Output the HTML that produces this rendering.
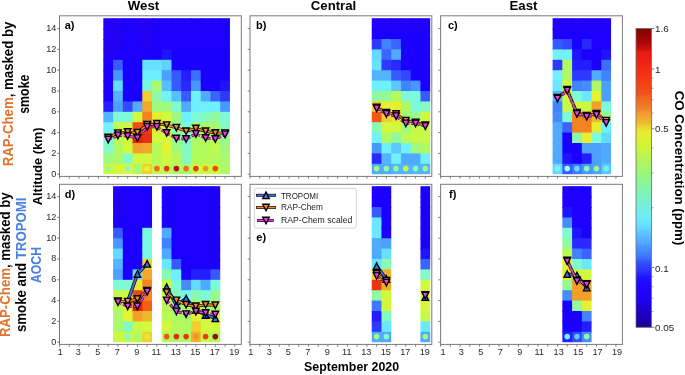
<!DOCTYPE html><html><head><meta charset="utf-8"><style>html,body{margin:0;padding:0;background:#fff;}svg{display:block;will-change:transform;font-family:"Liberation Sans",sans-serif;}</style></head><body>
<svg width="685" height="375" viewBox="0 0 685 375" font-family="&quot;Liberation Sans&quot;, sans-serif">
<rect x="0" y="0" width="685" height="375" fill="#fff"/>
<rect x="103.33" y="18.2" width="10.74" height="11.4" fill="#2300fa"/>
<rect x="103.33" y="28.6" width="10.74" height="11.4" fill="#2300fa"/>
<rect x="103.33" y="39" width="10.74" height="11.4" fill="#2200f0"/>
<rect x="103.33" y="49.4" width="10.74" height="11.4" fill="#2200f0"/>
<rect x="103.33" y="59.8" width="10.74" height="11.4" fill="#1900ff"/>
<rect x="103.33" y="70.2" width="10.74" height="11.4" fill="#1900ff"/>
<rect x="103.33" y="80.6" width="10.74" height="11.4" fill="#1900ff"/>
<rect x="103.33" y="91" width="10.74" height="11.4" fill="#1900ff"/>
<rect x="103.33" y="101.4" width="10.74" height="11.4" fill="#241eff"/>
<rect x="103.33" y="111.8" width="10.74" height="11.4" fill="#54b4ff"/>
<rect x="103.33" y="122.2" width="10.74" height="11.4" fill="#72f2f5"/>
<rect x="103.33" y="132.6" width="10.74" height="11.4" fill="#7dfad7"/>
<rect x="103.33" y="143" width="10.74" height="11.4" fill="#81facc"/>
<rect x="103.33" y="153.4" width="10.74" height="11.4" fill="#a0fa7d"/>
<rect x="103.33" y="163.8" width="10.74" height="10.4" fill="#c7fa47"/>
<rect x="113.07" y="18.2" width="10.74" height="11.4" fill="#2300fa"/>
<rect x="113.07" y="28.6" width="10.74" height="11.4" fill="#2200f0"/>
<rect x="113.07" y="39" width="10.74" height="11.4" fill="#2200f0"/>
<rect x="113.07" y="49.4" width="10.74" height="11.4" fill="#1c00fd"/>
<rect x="113.07" y="59.8" width="10.74" height="11.4" fill="#375aff"/>
<rect x="113.07" y="70.2" width="10.74" height="11.4" fill="#4896ff"/>
<rect x="113.07" y="80.6" width="10.74" height="11.4" fill="#63daff"/>
<rect x="113.07" y="91" width="10.74" height="11.4" fill="#54b4ff"/>
<rect x="113.07" y="101.4" width="10.74" height="11.4" fill="#4ca0ff"/>
<rect x="113.07" y="111.8" width="10.74" height="11.4" fill="#7dfad7"/>
<rect x="113.07" y="122.2" width="10.74" height="11.4" fill="#c7fa47"/>
<rect x="113.07" y="132.6" width="10.74" height="11.4" fill="#bafa54"/>
<rect x="113.07" y="143" width="10.74" height="11.4" fill="#affa63"/>
<rect x="113.07" y="153.4" width="10.74" height="11.4" fill="#aafa6c"/>
<rect x="113.07" y="163.8" width="10.74" height="10.4" fill="#cdfa41"/>
<rect x="122.81" y="18.2" width="10.74" height="11.4" fill="#1c00fd"/>
<rect x="122.81" y="28.6" width="10.74" height="11.4" fill="#1c00fd"/>
<rect x="122.81" y="39" width="10.74" height="11.4" fill="#1c00fd"/>
<rect x="122.81" y="49.4" width="10.74" height="11.4" fill="#1c00fd"/>
<rect x="122.81" y="59.8" width="10.74" height="11.4" fill="#1900ff"/>
<rect x="122.81" y="70.2" width="10.74" height="11.4" fill="#1900ff"/>
<rect x="122.81" y="80.6" width="10.74" height="11.4" fill="#1900ff"/>
<rect x="122.81" y="91" width="10.74" height="11.4" fill="#1900ff"/>
<rect x="122.81" y="101.4" width="10.74" height="11.4" fill="#3249ff"/>
<rect x="122.81" y="111.8" width="10.74" height="11.4" fill="#7dfad7"/>
<rect x="122.81" y="122.2" width="10.74" height="11.4" fill="#cdfa41"/>
<rect x="122.81" y="132.6" width="10.74" height="11.4" fill="#d7f83a"/>
<rect x="122.81" y="143" width="10.74" height="11.4" fill="#d2f93d"/>
<rect x="122.81" y="153.4" width="10.74" height="11.4" fill="#81facc"/>
<rect x="122.81" y="163.8" width="10.74" height="10.4" fill="#e1f532"/>
<rect x="132.55" y="18.2" width="10.74" height="11.4" fill="#2000fc"/>
<rect x="132.55" y="28.6" width="10.74" height="11.4" fill="#2000fc"/>
<rect x="132.55" y="39" width="10.74" height="11.4" fill="#1c00fd"/>
<rect x="132.55" y="49.4" width="10.74" height="11.4" fill="#1c00fd"/>
<rect x="132.55" y="59.8" width="10.74" height="11.4" fill="#1900ff"/>
<rect x="132.55" y="70.2" width="10.74" height="11.4" fill="#1900ff"/>
<rect x="132.55" y="80.6" width="10.74" height="11.4" fill="#1900ff"/>
<rect x="132.55" y="91" width="10.74" height="11.4" fill="#1900ff"/>
<rect x="132.55" y="101.4" width="10.74" height="11.4" fill="#50aaff"/>
<rect x="132.55" y="111.8" width="10.74" height="11.4" fill="#d2f93d"/>
<rect x="132.55" y="122.2" width="10.74" height="11.4" fill="#f14e17"/>
<rect x="132.55" y="132.6" width="10.74" height="11.4" fill="#e1230f"/>
<rect x="132.55" y="143" width="10.74" height="11.4" fill="#f2a028"/>
<rect x="132.55" y="153.4" width="10.74" height="11.4" fill="#cdfa41"/>
<rect x="132.55" y="163.8" width="10.74" height="10.4" fill="#b4fa5a"/>
<rect x="142.29" y="18.2" width="10.74" height="11.4" fill="#2300fa"/>
<rect x="142.29" y="28.6" width="10.74" height="11.4" fill="#2200f0"/>
<rect x="142.29" y="39" width="10.74" height="11.4" fill="#2200f0"/>
<rect x="142.29" y="49.4" width="10.74" height="11.4" fill="#1c00fd"/>
<rect x="142.29" y="59.8" width="10.74" height="11.4" fill="#67e1ff"/>
<rect x="142.29" y="70.2" width="10.74" height="11.4" fill="#6ef0ff"/>
<rect x="142.29" y="80.6" width="10.74" height="11.4" fill="#79f8e1"/>
<rect x="142.29" y="91" width="10.74" height="11.4" fill="#eed030"/>
<rect x="142.29" y="101.4" width="10.74" height="11.4" fill="#f2a829"/>
<rect x="142.29" y="111.8" width="10.74" height="11.4" fill="#f58223"/>
<rect x="142.29" y="122.2" width="10.74" height="11.4" fill="#f03c14"/>
<rect x="142.29" y="132.6" width="10.74" height="11.4" fill="#e83012"/>
<rect x="142.29" y="143" width="10.74" height="11.4" fill="#f2a829"/>
<rect x="142.29" y="153.4" width="10.74" height="11.4" fill="#d2f93d"/>
<rect x="142.29" y="163.8" width="10.74" height="10.4" fill="#eed030"/>
<rect x="152.03" y="18.2" width="10.74" height="11.4" fill="#1c00fd"/>
<rect x="152.03" y="28.6" width="10.74" height="11.4" fill="#1c00fd"/>
<rect x="152.03" y="39" width="10.74" height="11.4" fill="#1c00fd"/>
<rect x="152.03" y="49.4" width="10.74" height="11.4" fill="#1900ff"/>
<rect x="152.03" y="59.8" width="10.74" height="11.4" fill="#67e1ff"/>
<rect x="152.03" y="70.2" width="10.74" height="11.4" fill="#6ef0ff"/>
<rect x="152.03" y="80.6" width="10.74" height="11.4" fill="#aafa6c"/>
<rect x="152.03" y="91" width="10.74" height="11.4" fill="#8cfaaa"/>
<rect x="152.03" y="101.4" width="10.74" height="11.4" fill="#a0fa7d"/>
<rect x="152.03" y="111.8" width="10.74" height="11.4" fill="#e6eb32"/>
<rect x="152.03" y="122.2" width="10.74" height="11.4" fill="#e6eb32"/>
<rect x="152.03" y="132.6" width="10.74" height="11.4" fill="#d2f93d"/>
<rect x="152.03" y="143" width="10.74" height="11.4" fill="#b4fa5a"/>
<rect x="152.03" y="153.4" width="10.74" height="11.4" fill="#b4fa5a"/>
<rect x="152.03" y="163.8" width="10.74" height="10.4" fill="#c0fa4e"/>
<rect x="161.77" y="18.2" width="10.74" height="11.4" fill="#1c00fd"/>
<rect x="161.77" y="28.6" width="10.74" height="11.4" fill="#1c00fd"/>
<rect x="161.77" y="39" width="10.74" height="11.4" fill="#1c00fd"/>
<rect x="161.77" y="49.4" width="10.74" height="11.4" fill="#2014ff"/>
<rect x="161.77" y="59.8" width="10.74" height="11.4" fill="#5fd2ff"/>
<rect x="161.77" y="70.2" width="10.74" height="11.4" fill="#4ca0ff"/>
<rect x="161.77" y="80.6" width="10.74" height="11.4" fill="#57beff"/>
<rect x="161.77" y="91" width="10.74" height="11.4" fill="#72f2f5"/>
<rect x="161.77" y="101.4" width="10.74" height="11.4" fill="#a0fa7d"/>
<rect x="161.77" y="111.8" width="10.74" height="11.4" fill="#d2f93d"/>
<rect x="161.77" y="122.2" width="10.74" height="11.4" fill="#d2f93d"/>
<rect x="161.77" y="132.6" width="10.74" height="11.4" fill="#d7f83a"/>
<rect x="161.77" y="143" width="10.74" height="11.4" fill="#e1f532"/>
<rect x="161.77" y="153.4" width="10.74" height="11.4" fill="#d2f93d"/>
<rect x="161.77" y="163.8" width="10.74" height="10.4" fill="#c0fa4e"/>
<rect x="171.51" y="18.2" width="10.74" height="11.4" fill="#1c00fd"/>
<rect x="171.51" y="28.6" width="10.74" height="11.4" fill="#1c00fd"/>
<rect x="171.51" y="39" width="10.74" height="11.4" fill="#1c00fd"/>
<rect x="171.51" y="49.4" width="10.74" height="11.4" fill="#1900ff"/>
<rect x="171.51" y="59.8" width="10.74" height="11.4" fill="#1900ff"/>
<rect x="171.51" y="70.2" width="10.74" height="11.4" fill="#375aff"/>
<rect x="171.51" y="80.6" width="10.74" height="11.4" fill="#375aff"/>
<rect x="171.51" y="91" width="10.74" height="11.4" fill="#57beff"/>
<rect x="171.51" y="101.4" width="10.74" height="11.4" fill="#81facc"/>
<rect x="171.51" y="111.8" width="10.74" height="11.4" fill="#a0fa7d"/>
<rect x="171.51" y="122.2" width="10.74" height="11.4" fill="#8cfaaa"/>
<rect x="171.51" y="132.6" width="10.74" height="11.4" fill="#96fa93"/>
<rect x="171.51" y="143" width="10.74" height="11.4" fill="#a0fa7d"/>
<rect x="171.51" y="153.4" width="10.74" height="11.4" fill="#bafa54"/>
<rect x="171.51" y="163.8" width="10.74" height="10.4" fill="#aafa6c"/>
<rect x="181.25" y="18.2" width="10.74" height="11.4" fill="#1c00fd"/>
<rect x="181.25" y="28.6" width="10.74" height="11.4" fill="#1c00fd"/>
<rect x="181.25" y="39" width="10.74" height="11.4" fill="#1c00fd"/>
<rect x="181.25" y="49.4" width="10.74" height="11.4" fill="#1900ff"/>
<rect x="181.25" y="59.8" width="10.74" height="11.4" fill="#1900ff"/>
<rect x="181.25" y="70.2" width="10.74" height="11.4" fill="#241eff"/>
<rect x="181.25" y="80.6" width="10.74" height="11.4" fill="#2828ff"/>
<rect x="181.25" y="91" width="10.74" height="11.4" fill="#375aff"/>
<rect x="181.25" y="101.4" width="10.74" height="11.4" fill="#50aaff"/>
<rect x="181.25" y="111.8" width="10.74" height="11.4" fill="#6ef0ff"/>
<rect x="181.25" y="122.2" width="10.74" height="11.4" fill="#81facc"/>
<rect x="181.25" y="132.6" width="10.74" height="11.4" fill="#84fac1"/>
<rect x="181.25" y="143" width="10.74" height="11.4" fill="#84fac1"/>
<rect x="181.25" y="153.4" width="10.74" height="11.4" fill="#84fac1"/>
<rect x="181.25" y="163.8" width="10.74" height="10.4" fill="#aafa6c"/>
<rect x="190.99" y="18.2" width="10.74" height="11.4" fill="#1c00fd"/>
<rect x="190.99" y="28.6" width="10.74" height="11.4" fill="#1c00fd"/>
<rect x="190.99" y="39" width="10.74" height="11.4" fill="#1c00fd"/>
<rect x="190.99" y="49.4" width="10.74" height="11.4" fill="#1900ff"/>
<rect x="190.99" y="59.8" width="10.74" height="11.4" fill="#1900ff"/>
<rect x="190.99" y="70.2" width="10.74" height="11.4" fill="#3c6eff"/>
<rect x="190.99" y="80.6" width="10.74" height="11.4" fill="#4896ff"/>
<rect x="190.99" y="91" width="10.74" height="11.4" fill="#6ef0ff"/>
<rect x="190.99" y="101.4" width="10.74" height="11.4" fill="#6ef0ff"/>
<rect x="190.99" y="111.8" width="10.74" height="11.4" fill="#7dfad7"/>
<rect x="190.99" y="122.2" width="10.74" height="11.4" fill="#a0fa7d"/>
<rect x="190.99" y="132.6" width="10.74" height="11.4" fill="#affa63"/>
<rect x="190.99" y="143" width="10.74" height="11.4" fill="#affa63"/>
<rect x="190.99" y="153.4" width="10.74" height="11.4" fill="#b4fa5a"/>
<rect x="190.99" y="163.8" width="10.74" height="10.4" fill="#cdfa41"/>
<rect x="200.73" y="18.2" width="10.74" height="11.4" fill="#1c00fd"/>
<rect x="200.73" y="28.6" width="10.74" height="11.4" fill="#1c00fd"/>
<rect x="200.73" y="39" width="10.74" height="11.4" fill="#1c00fd"/>
<rect x="200.73" y="49.4" width="10.74" height="11.4" fill="#1900ff"/>
<rect x="200.73" y="59.8" width="10.74" height="11.4" fill="#1900ff"/>
<rect x="200.73" y="70.2" width="10.74" height="11.4" fill="#1900ff"/>
<rect x="200.73" y="80.6" width="10.74" height="11.4" fill="#1c00fd"/>
<rect x="200.73" y="91" width="10.74" height="11.4" fill="#50aaff"/>
<rect x="200.73" y="101.4" width="10.74" height="11.4" fill="#6ef0ff"/>
<rect x="200.73" y="111.8" width="10.74" height="11.4" fill="#84fac1"/>
<rect x="200.73" y="122.2" width="10.74" height="11.4" fill="#aafa6c"/>
<rect x="200.73" y="132.6" width="10.74" height="11.4" fill="#affa63"/>
<rect x="200.73" y="143" width="10.74" height="11.4" fill="#b4fa5a"/>
<rect x="200.73" y="153.4" width="10.74" height="11.4" fill="#b4fa5a"/>
<rect x="200.73" y="163.8" width="10.74" height="10.4" fill="#cdfa41"/>
<rect x="210.47" y="18.2" width="10.74" height="11.4" fill="#1c00fd"/>
<rect x="210.47" y="28.6" width="10.74" height="11.4" fill="#1c00fd"/>
<rect x="210.47" y="39" width="10.74" height="11.4" fill="#1c00fd"/>
<rect x="210.47" y="49.4" width="10.74" height="11.4" fill="#1900ff"/>
<rect x="210.47" y="59.8" width="10.74" height="11.4" fill="#1900ff"/>
<rect x="210.47" y="70.2" width="10.74" height="11.4" fill="#1900ff"/>
<rect x="210.47" y="80.6" width="10.74" height="11.4" fill="#1900ff"/>
<rect x="210.47" y="91" width="10.74" height="11.4" fill="#3a64ff"/>
<rect x="210.47" y="101.4" width="10.74" height="11.4" fill="#6ef0ff"/>
<rect x="210.47" y="111.8" width="10.74" height="11.4" fill="#91fa9f"/>
<rect x="210.47" y="122.2" width="10.74" height="11.4" fill="#aafa6c"/>
<rect x="210.47" y="132.6" width="10.74" height="11.4" fill="#bafa54"/>
<rect x="210.47" y="143" width="10.74" height="11.4" fill="#c0fa4e"/>
<rect x="210.47" y="153.4" width="10.74" height="11.4" fill="#b4fa5a"/>
<rect x="210.47" y="163.8" width="10.74" height="10.4" fill="#cdfa41"/>
<rect x="220.21" y="18.2" width="9.74" height="11.4" fill="#1c00fd"/>
<rect x="220.21" y="28.6" width="9.74" height="11.4" fill="#1c00fd"/>
<rect x="220.21" y="39" width="9.74" height="11.4" fill="#1c00fd"/>
<rect x="220.21" y="49.4" width="9.74" height="11.4" fill="#1900ff"/>
<rect x="220.21" y="59.8" width="9.74" height="11.4" fill="#1900ff"/>
<rect x="220.21" y="70.2" width="9.74" height="11.4" fill="#1900ff"/>
<rect x="220.21" y="80.6" width="9.74" height="11.4" fill="#2014ff"/>
<rect x="220.21" y="91" width="9.74" height="11.4" fill="#2d39ff"/>
<rect x="220.21" y="101.4" width="9.74" height="11.4" fill="#4896ff"/>
<rect x="220.21" y="111.8" width="9.74" height="11.4" fill="#7dfad7"/>
<rect x="220.21" y="122.2" width="9.74" height="11.4" fill="#84fac1"/>
<rect x="220.21" y="132.6" width="9.74" height="11.4" fill="#96fa93"/>
<rect x="220.21" y="143" width="9.74" height="11.4" fill="#a0fa7d"/>
<rect x="220.21" y="153.4" width="9.74" height="11.4" fill="#aafa6c"/>
<rect x="220.21" y="163.8" width="9.74" height="10.4" fill="#aafa6c"/>
<circle cx="108.2" cy="168.6" r="2.8" fill="#a0fa7d"/>
<circle cx="117.94" cy="168.6" r="2.8" fill="#e1f532"/>
<circle cx="127.68" cy="168.6" r="2.8" fill="#7dfad7"/>
<circle cx="137.42" cy="168.6" r="2.8" fill="#9bfa88"/>
<circle cx="147.16" cy="168.6" r="2.8" fill="#e1f532"/>
<circle cx="156.9" cy="168.6" r="2.8" fill="#f3681c"/>
<circle cx="166.64" cy="168.6" r="2.8" fill="#ec3613"/>
<circle cx="176.38" cy="168.6" r="2.8" fill="#bf1109"/>
<circle cx="186.12" cy="168.6" r="2.8" fill="#f3681c"/>
<circle cx="195.86" cy="168.6" r="2.8" fill="#ec3613"/>
<circle cx="205.6" cy="168.6" r="2.8" fill="#f39827"/>
<circle cx="215.34" cy="168.6" r="2.8" fill="#f04515"/>
<circle cx="225.08" cy="168.6" r="2.8" fill="#b4fa5a"/>
<rect x="371.75" y="18.2" width="10.74" height="11.4" fill="#2000fc"/>
<rect x="371.75" y="28.6" width="10.74" height="11.4" fill="#1c00fd"/>
<rect x="371.75" y="39" width="10.74" height="11.4" fill="#2d39ff"/>
<rect x="371.75" y="49.4" width="10.74" height="11.4" fill="#63daff"/>
<rect x="371.75" y="59.8" width="10.74" height="11.4" fill="#67e1ff"/>
<rect x="371.75" y="70.2" width="10.74" height="11.4" fill="#54b4ff"/>
<rect x="371.75" y="80.6" width="10.74" height="11.4" fill="#6ef0ff"/>
<rect x="371.75" y="91" width="10.74" height="11.4" fill="#91fa9f"/>
<rect x="371.75" y="101.4" width="10.74" height="11.4" fill="#eed030"/>
<rect x="371.75" y="111.8" width="10.74" height="11.4" fill="#f25618"/>
<rect x="371.75" y="122.2" width="10.74" height="11.4" fill="#88fab5"/>
<rect x="371.75" y="132.6" width="10.74" height="11.4" fill="#72f2f5"/>
<rect x="371.75" y="143" width="10.74" height="11.4" fill="#4896ff"/>
<rect x="371.75" y="153.4" width="10.74" height="11.4" fill="#2828ff"/>
<rect x="371.75" y="163.8" width="10.74" height="10.4" fill="#50aaff"/>
<rect x="381.49" y="18.2" width="10.74" height="11.4" fill="#2000fc"/>
<rect x="381.49" y="28.6" width="10.74" height="11.4" fill="#1900ff"/>
<rect x="381.49" y="39" width="10.74" height="11.4" fill="#4182ff"/>
<rect x="381.49" y="49.4" width="10.74" height="11.4" fill="#3a64ff"/>
<rect x="381.49" y="59.8" width="10.74" height="11.4" fill="#2d39ff"/>
<rect x="381.49" y="70.2" width="10.74" height="11.4" fill="#54b4ff"/>
<rect x="381.49" y="80.6" width="10.74" height="11.4" fill="#6ef0ff"/>
<rect x="381.49" y="91" width="10.74" height="11.4" fill="#96fa93"/>
<rect x="381.49" y="101.4" width="10.74" height="11.4" fill="#e4f032"/>
<rect x="381.49" y="111.8" width="10.74" height="11.4" fill="#eed030"/>
<rect x="381.49" y="122.2" width="10.74" height="11.4" fill="#d2f93d"/>
<rect x="381.49" y="132.6" width="10.74" height="11.4" fill="#affa63"/>
<rect x="381.49" y="143" width="10.74" height="11.4" fill="#6ef0ff"/>
<rect x="381.49" y="153.4" width="10.74" height="11.4" fill="#54b4ff"/>
<rect x="381.49" y="163.8" width="10.74" height="10.4" fill="#50aaff"/>
<rect x="391.23" y="18.2" width="10.74" height="11.4" fill="#2000fc"/>
<rect x="391.23" y="28.6" width="10.74" height="11.4" fill="#1c00fd"/>
<rect x="391.23" y="39" width="10.74" height="11.4" fill="#3a64ff"/>
<rect x="391.23" y="49.4" width="10.74" height="11.4" fill="#50aaff"/>
<rect x="391.23" y="59.8" width="10.74" height="11.4" fill="#2828ff"/>
<rect x="391.23" y="70.2" width="10.74" height="11.4" fill="#375aff"/>
<rect x="391.23" y="80.6" width="10.74" height="11.4" fill="#5bc8ff"/>
<rect x="391.23" y="91" width="10.74" height="11.4" fill="#b4fa5a"/>
<rect x="391.23" y="101.4" width="10.74" height="11.4" fill="#e4f032"/>
<rect x="391.23" y="111.8" width="10.74" height="11.4" fill="#e8e632"/>
<rect x="391.23" y="122.2" width="10.74" height="11.4" fill="#d2f93d"/>
<rect x="391.23" y="132.6" width="10.74" height="11.4" fill="#91fa9f"/>
<rect x="391.23" y="143" width="10.74" height="11.4" fill="#5bc8ff"/>
<rect x="391.23" y="153.4" width="10.74" height="11.4" fill="#6ef0ff"/>
<rect x="391.23" y="163.8" width="10.74" height="10.4" fill="#54b4ff"/>
<rect x="400.97" y="18.2" width="10.74" height="11.4" fill="#2000fc"/>
<rect x="400.97" y="28.6" width="10.74" height="11.4" fill="#1c00fd"/>
<rect x="400.97" y="39" width="10.74" height="11.4" fill="#1c00fd"/>
<rect x="400.97" y="49.4" width="10.74" height="11.4" fill="#1c00fd"/>
<rect x="400.97" y="59.8" width="10.74" height="11.4" fill="#1c00fd"/>
<rect x="400.97" y="70.2" width="10.74" height="11.4" fill="#3249ff"/>
<rect x="400.97" y="80.6" width="10.74" height="11.4" fill="#4182ff"/>
<rect x="400.97" y="91" width="10.74" height="11.4" fill="#7dfad7"/>
<rect x="400.97" y="101.4" width="10.74" height="11.4" fill="#affa63"/>
<rect x="400.97" y="111.8" width="10.74" height="11.4" fill="#a5fa74"/>
<rect x="400.97" y="122.2" width="10.74" height="11.4" fill="#a0fa7d"/>
<rect x="400.97" y="132.6" width="10.74" height="11.4" fill="#bafa54"/>
<rect x="400.97" y="143" width="10.74" height="11.4" fill="#6ef0ff"/>
<rect x="400.97" y="153.4" width="10.74" height="11.4" fill="#50aaff"/>
<rect x="400.97" y="163.8" width="10.74" height="10.4" fill="#54b4ff"/>
<rect x="410.71" y="18.2" width="10.74" height="11.4" fill="#2000fc"/>
<rect x="410.71" y="28.6" width="10.74" height="11.4" fill="#1c00fd"/>
<rect x="410.71" y="39" width="10.74" height="11.4" fill="#1c00fd"/>
<rect x="410.71" y="49.4" width="10.74" height="11.4" fill="#1c00fd"/>
<rect x="410.71" y="59.8" width="10.74" height="11.4" fill="#1c00fd"/>
<rect x="410.71" y="70.2" width="10.74" height="11.4" fill="#1c00fd"/>
<rect x="410.71" y="80.6" width="10.74" height="11.4" fill="#4896ff"/>
<rect x="410.71" y="91" width="10.74" height="11.4" fill="#7dfad7"/>
<rect x="410.71" y="101.4" width="10.74" height="11.4" fill="#7dfad7"/>
<rect x="410.71" y="111.8" width="10.74" height="11.4" fill="#96fa93"/>
<rect x="410.71" y="122.2" width="10.74" height="11.4" fill="#c7fa47"/>
<rect x="410.71" y="132.6" width="10.74" height="11.4" fill="#c7fa47"/>
<rect x="410.71" y="143" width="10.74" height="11.4" fill="#a0fa7d"/>
<rect x="410.71" y="153.4" width="10.74" height="11.4" fill="#50aaff"/>
<rect x="410.71" y="163.8" width="10.74" height="10.4" fill="#54b4ff"/>
<rect x="420.45" y="18.2" width="9.74" height="11.4" fill="#2000fc"/>
<rect x="420.45" y="28.6" width="9.74" height="11.4" fill="#1c00fd"/>
<rect x="420.45" y="39" width="9.74" height="11.4" fill="#1c00fd"/>
<rect x="420.45" y="49.4" width="9.74" height="11.4" fill="#1c00fd"/>
<rect x="420.45" y="59.8" width="9.74" height="11.4" fill="#1c00fd"/>
<rect x="420.45" y="70.2" width="9.74" height="11.4" fill="#1c00fd"/>
<rect x="420.45" y="80.6" width="9.74" height="11.4" fill="#1900ff"/>
<rect x="420.45" y="91" width="9.74" height="11.4" fill="#375aff"/>
<rect x="420.45" y="101.4" width="9.74" height="11.4" fill="#84fac1"/>
<rect x="420.45" y="111.8" width="9.74" height="11.4" fill="#cdfa41"/>
<rect x="420.45" y="122.2" width="9.74" height="11.4" fill="#c7fa47"/>
<rect x="420.45" y="132.6" width="9.74" height="11.4" fill="#c7fa47"/>
<rect x="420.45" y="143" width="9.74" height="11.4" fill="#affa63"/>
<rect x="420.45" y="153.4" width="9.74" height="11.4" fill="#6ef0ff"/>
<rect x="420.45" y="163.8" width="9.74" height="10.4" fill="#54b4ff"/>
<circle cx="376.62" cy="168.6" r="2.8" fill="#a0fa7d"/>
<circle cx="386.36" cy="168.6" r="2.8" fill="#91fa9f"/>
<circle cx="396.1" cy="168.6" r="2.8" fill="#96fa93"/>
<circle cx="405.84" cy="168.6" r="2.8" fill="#c7fa47"/>
<circle cx="415.58" cy="168.6" r="2.8" fill="#84fac1"/>
<circle cx="425.32" cy="168.6" r="2.8" fill="#a0fa7d"/>
<rect x="552.61" y="18.2" width="10.74" height="11.4" fill="#2000fc"/>
<rect x="552.61" y="28.6" width="10.74" height="11.4" fill="#1c00fd"/>
<rect x="552.61" y="39" width="10.74" height="11.4" fill="#375aff"/>
<rect x="552.61" y="49.4" width="10.74" height="11.4" fill="#72f2f5"/>
<rect x="552.61" y="59.8" width="10.74" height="11.4" fill="#2d39ff"/>
<rect x="552.61" y="70.2" width="10.74" height="11.4" fill="#6ef0ff"/>
<rect x="552.61" y="80.6" width="10.74" height="11.4" fill="#6ae8ff"/>
<rect x="552.61" y="91" width="10.74" height="11.4" fill="#54b4ff"/>
<rect x="552.61" y="101.4" width="10.74" height="11.4" fill="#4182ff"/>
<rect x="552.61" y="111.8" width="10.74" height="11.4" fill="#458cff"/>
<rect x="552.61" y="122.2" width="10.74" height="11.4" fill="#50aaff"/>
<rect x="552.61" y="132.6" width="10.74" height="11.4" fill="#50aaff"/>
<rect x="552.61" y="143" width="10.74" height="11.4" fill="#50aaff"/>
<rect x="552.61" y="153.4" width="10.74" height="11.4" fill="#50aaff"/>
<rect x="552.61" y="163.8" width="10.74" height="10.4" fill="#63daff"/>
<rect x="562.35" y="18.2" width="10.74" height="11.4" fill="#2000fc"/>
<rect x="562.35" y="28.6" width="10.74" height="11.4" fill="#1c00fd"/>
<rect x="562.35" y="39" width="10.74" height="11.4" fill="#3249ff"/>
<rect x="562.35" y="49.4" width="10.74" height="11.4" fill="#72f2f5"/>
<rect x="562.35" y="59.8" width="10.74" height="11.4" fill="#affa63"/>
<rect x="562.35" y="70.2" width="10.74" height="11.4" fill="#affa63"/>
<rect x="562.35" y="80.6" width="10.74" height="11.4" fill="#cdfa41"/>
<rect x="562.35" y="91" width="10.74" height="11.4" fill="#d2f93d"/>
<rect x="562.35" y="101.4" width="10.74" height="11.4" fill="#c7fa47"/>
<rect x="562.35" y="111.8" width="10.74" height="11.4" fill="#7dfad7"/>
<rect x="562.35" y="122.2" width="10.74" height="11.4" fill="#3a64ff"/>
<rect x="562.35" y="132.6" width="10.74" height="11.4" fill="#1900ff"/>
<rect x="562.35" y="143" width="10.74" height="11.4" fill="#1900ff"/>
<rect x="562.35" y="153.4" width="10.74" height="11.4" fill="#2014ff"/>
<rect x="562.35" y="163.8" width="10.74" height="10.4" fill="#375aff"/>
<rect x="572.09" y="18.2" width="10.74" height="11.4" fill="#2000fc"/>
<rect x="572.09" y="28.6" width="10.74" height="11.4" fill="#1c00fd"/>
<rect x="572.09" y="39" width="10.74" height="11.4" fill="#1c00fd"/>
<rect x="572.09" y="49.4" width="10.74" height="11.4" fill="#2014ff"/>
<rect x="572.09" y="59.8" width="10.74" height="11.4" fill="#241eff"/>
<rect x="572.09" y="70.2" width="10.74" height="11.4" fill="#2d39ff"/>
<rect x="572.09" y="80.6" width="10.74" height="11.4" fill="#4182ff"/>
<rect x="572.09" y="91" width="10.74" height="11.4" fill="#7dfad7"/>
<rect x="572.09" y="101.4" width="10.74" height="11.4" fill="#d2f93d"/>
<rect x="572.09" y="111.8" width="10.74" height="11.4" fill="#f58223"/>
<rect x="572.09" y="122.2" width="10.74" height="11.4" fill="#f58223"/>
<rect x="572.09" y="132.6" width="10.74" height="11.4" fill="#8cfaaa"/>
<rect x="572.09" y="143" width="10.74" height="11.4" fill="#1900ff"/>
<rect x="572.09" y="153.4" width="10.74" height="11.4" fill="#1900ff"/>
<rect x="572.09" y="163.8" width="10.74" height="10.4" fill="#3e78ff"/>
<rect x="581.83" y="18.2" width="10.74" height="11.4" fill="#2000fc"/>
<rect x="581.83" y="28.6" width="10.74" height="11.4" fill="#1900ff"/>
<rect x="581.83" y="39" width="10.74" height="11.4" fill="#2828ff"/>
<rect x="581.83" y="49.4" width="10.74" height="11.4" fill="#1c00fd"/>
<rect x="581.83" y="59.8" width="10.74" height="11.4" fill="#241eff"/>
<rect x="581.83" y="70.2" width="10.74" height="11.4" fill="#2d39ff"/>
<rect x="581.83" y="80.6" width="10.74" height="11.4" fill="#458cff"/>
<rect x="581.83" y="91" width="10.74" height="11.4" fill="#6ae8ff"/>
<rect x="581.83" y="101.4" width="10.74" height="11.4" fill="#c7fa47"/>
<rect x="581.83" y="111.8" width="10.74" height="11.4" fill="#f58223"/>
<rect x="581.83" y="122.2" width="10.74" height="11.4" fill="#f58223"/>
<rect x="581.83" y="132.6" width="10.74" height="11.4" fill="#e4f032"/>
<rect x="581.83" y="143" width="10.74" height="11.4" fill="#4ca0ff"/>
<rect x="581.83" y="153.4" width="10.74" height="11.4" fill="#241eff"/>
<rect x="581.83" y="163.8" width="10.74" height="10.4" fill="#4896ff"/>
<rect x="591.57" y="18.2" width="10.74" height="11.4" fill="#2000fc"/>
<rect x="591.57" y="28.6" width="10.74" height="11.4" fill="#1c00fd"/>
<rect x="591.57" y="39" width="10.74" height="11.4" fill="#1c00fd"/>
<rect x="591.57" y="49.4" width="10.74" height="11.4" fill="#1c00fd"/>
<rect x="591.57" y="59.8" width="10.74" height="11.4" fill="#1c00fd"/>
<rect x="591.57" y="70.2" width="10.74" height="11.4" fill="#50aaff"/>
<rect x="591.57" y="80.6" width="10.74" height="11.4" fill="#affa63"/>
<rect x="591.57" y="91" width="10.74" height="11.4" fill="#e1f532"/>
<rect x="591.57" y="101.4" width="10.74" height="11.4" fill="#f2a028"/>
<rect x="591.57" y="111.8" width="10.74" height="11.4" fill="#f0b72c"/>
<rect x="591.57" y="122.2" width="10.74" height="11.4" fill="#e4f032"/>
<rect x="591.57" y="132.6" width="10.74" height="11.4" fill="#7dfad7"/>
<rect x="591.57" y="143" width="10.74" height="11.4" fill="#4ca0ff"/>
<rect x="591.57" y="153.4" width="10.74" height="11.4" fill="#4ca0ff"/>
<rect x="591.57" y="163.8" width="10.74" height="10.4" fill="#4ca0ff"/>
<rect x="601.31" y="18.2" width="9.74" height="11.4" fill="#2000fc"/>
<rect x="601.31" y="28.6" width="9.74" height="11.4" fill="#1c00fd"/>
<rect x="601.31" y="39" width="9.74" height="11.4" fill="#1c00fd"/>
<rect x="601.31" y="49.4" width="9.74" height="11.4" fill="#2014ff"/>
<rect x="601.31" y="59.8" width="9.74" height="11.4" fill="#3c6eff"/>
<rect x="601.31" y="70.2" width="9.74" height="11.4" fill="#4182ff"/>
<rect x="601.31" y="80.6" width="9.74" height="11.4" fill="#4ca0ff"/>
<rect x="601.31" y="91" width="9.74" height="11.4" fill="#4ca0ff"/>
<rect x="601.31" y="101.4" width="9.74" height="11.4" fill="#7dfad7"/>
<rect x="601.31" y="111.8" width="9.74" height="11.4" fill="#96fa93"/>
<rect x="601.31" y="122.2" width="9.74" height="11.4" fill="#6ef0ff"/>
<rect x="601.31" y="132.6" width="9.74" height="11.4" fill="#63daff"/>
<rect x="601.31" y="143" width="9.74" height="11.4" fill="#50aaff"/>
<rect x="601.31" y="153.4" width="9.74" height="11.4" fill="#50aaff"/>
<rect x="601.31" y="163.8" width="9.74" height="10.4" fill="#5bc8ff"/>
<circle cx="557.48" cy="168.6" r="2.8" fill="#76f5eb"/>
<circle cx="567.22" cy="168.6" r="2.8" fill="#a0fff0"/>
<circle cx="576.96" cy="168.6" r="2.8" fill="#63daff"/>
<circle cx="586.7" cy="168.6" r="2.8" fill="#8cfaaa"/>
<circle cx="596.44" cy="168.6" r="2.8" fill="#9bfa88"/>
<circle cx="606.18" cy="168.6" r="2.8" fill="#72f2f5"/>
<rect x="113.07" y="186.2" width="10.74" height="11.4" fill="#2300fa"/>
<rect x="113.07" y="196.6" width="10.74" height="11.4" fill="#2200f0"/>
<rect x="113.07" y="207" width="10.74" height="11.4" fill="#2200f0"/>
<rect x="113.07" y="217.4" width="10.74" height="11.4" fill="#1c00fd"/>
<rect x="113.07" y="227.8" width="10.74" height="11.4" fill="#375aff"/>
<rect x="113.07" y="238.2" width="10.74" height="11.4" fill="#4896ff"/>
<rect x="113.07" y="248.6" width="10.74" height="11.4" fill="#63daff"/>
<rect x="113.07" y="259" width="10.74" height="11.4" fill="#54b4ff"/>
<rect x="113.07" y="269.4" width="10.74" height="11.4" fill="#4ca0ff"/>
<rect x="113.07" y="279.8" width="10.74" height="11.4" fill="#7dfad7"/>
<rect x="113.07" y="290.2" width="10.74" height="11.4" fill="#c7fa47"/>
<rect x="113.07" y="300.6" width="10.74" height="11.4" fill="#bafa54"/>
<rect x="113.07" y="311" width="10.74" height="11.4" fill="#aafa6c"/>
<rect x="113.07" y="321.4" width="10.74" height="11.4" fill="#aafa6c"/>
<rect x="113.07" y="331.8" width="10.74" height="10.4" fill="#c7fa47"/>
<rect x="122.81" y="186.2" width="10.74" height="11.4" fill="#1c00fd"/>
<rect x="122.81" y="196.6" width="10.74" height="11.4" fill="#1c00fd"/>
<rect x="122.81" y="207" width="10.74" height="11.4" fill="#1c00fd"/>
<rect x="122.81" y="217.4" width="10.74" height="11.4" fill="#1c00fd"/>
<rect x="122.81" y="227.8" width="10.74" height="11.4" fill="#1c00fd"/>
<rect x="122.81" y="238.2" width="10.74" height="11.4" fill="#1c00fd"/>
<rect x="122.81" y="248.6" width="10.74" height="11.4" fill="#1c00fd"/>
<rect x="122.81" y="259" width="10.74" height="11.4" fill="#1c00fd"/>
<rect x="122.81" y="269.4" width="10.74" height="11.4" fill="#1c00fd"/>
<rect x="122.81" y="279.8" width="10.74" height="11.4" fill="#7dfad7"/>
<rect x="122.81" y="290.2" width="10.74" height="11.4" fill="#d2f93d"/>
<rect x="122.81" y="300.6" width="10.74" height="11.4" fill="#e1f532"/>
<rect x="122.81" y="311" width="10.74" height="11.4" fill="#e1f532"/>
<rect x="122.81" y="321.4" width="10.74" height="11.4" fill="#84fac1"/>
<rect x="122.81" y="331.8" width="10.74" height="10.4" fill="#c7fa47"/>
<rect x="132.55" y="186.2" width="10.74" height="11.4" fill="#1c00fd"/>
<rect x="132.55" y="196.6" width="10.74" height="11.4" fill="#1c00fd"/>
<rect x="132.55" y="207" width="10.74" height="11.4" fill="#1c00fd"/>
<rect x="132.55" y="217.4" width="10.74" height="11.4" fill="#1c00fd"/>
<rect x="132.55" y="227.8" width="10.74" height="11.4" fill="#1c00fd"/>
<rect x="132.55" y="238.2" width="10.74" height="11.4" fill="#1c00fd"/>
<rect x="132.55" y="248.6" width="10.74" height="11.4" fill="#1c00fd"/>
<rect x="132.55" y="259" width="10.74" height="11.4" fill="#1c00fd"/>
<rect x="132.55" y="269.4" width="10.74" height="11.4" fill="#63daff"/>
<rect x="132.55" y="279.8" width="10.74" height="11.4" fill="#e6eb32"/>
<rect x="132.55" y="290.2" width="10.74" height="11.4" fill="#f04515"/>
<rect x="132.55" y="300.6" width="10.74" height="11.4" fill="#e1230f"/>
<rect x="132.55" y="311" width="10.74" height="11.4" fill="#f2a028"/>
<rect x="132.55" y="321.4" width="10.74" height="11.4" fill="#c7fa47"/>
<rect x="132.55" y="331.8" width="10.74" height="10.4" fill="#bafa54"/>
<rect x="142.29" y="186.2" width="9.74" height="11.4" fill="#1c00fd"/>
<rect x="142.29" y="196.6" width="9.74" height="11.4" fill="#1c00fd"/>
<rect x="142.29" y="207" width="9.74" height="11.4" fill="#1c00fd"/>
<rect x="142.29" y="217.4" width="9.74" height="11.4" fill="#1c00fd"/>
<rect x="142.29" y="227.8" width="9.74" height="11.4" fill="#79f8e1"/>
<rect x="142.29" y="238.2" width="9.74" height="11.4" fill="#79f8e1"/>
<rect x="142.29" y="248.6" width="9.74" height="11.4" fill="#79f8e1"/>
<rect x="142.29" y="259" width="9.74" height="11.4" fill="#eed030"/>
<rect x="142.29" y="269.4" width="9.74" height="11.4" fill="#f2a829"/>
<rect x="142.29" y="279.8" width="9.74" height="11.4" fill="#f58223"/>
<rect x="142.29" y="290.2" width="9.74" height="11.4" fill="#f58223"/>
<rect x="142.29" y="300.6" width="9.74" height="11.4" fill="#f25f19"/>
<rect x="142.29" y="311" width="9.74" height="11.4" fill="#f0b72c"/>
<rect x="142.29" y="321.4" width="9.74" height="11.4" fill="#d2f93d"/>
<rect x="142.29" y="331.8" width="9.74" height="10.4" fill="#eed030"/>
<rect x="161.77" y="186.2" width="10.74" height="11.4" fill="#1c00fd"/>
<rect x="161.77" y="196.6" width="10.74" height="11.4" fill="#1c00fd"/>
<rect x="161.77" y="207" width="10.74" height="11.4" fill="#1c00fd"/>
<rect x="161.77" y="217.4" width="10.74" height="11.4" fill="#1c00fd"/>
<rect x="161.77" y="227.8" width="10.74" height="11.4" fill="#50aaff"/>
<rect x="161.77" y="238.2" width="10.74" height="11.4" fill="#4182ff"/>
<rect x="161.77" y="248.6" width="10.74" height="11.4" fill="#50aaff"/>
<rect x="161.77" y="259" width="10.74" height="11.4" fill="#6ae8ff"/>
<rect x="161.77" y="269.4" width="10.74" height="11.4" fill="#88fab5"/>
<rect x="161.77" y="279.8" width="10.74" height="11.4" fill="#c7fa47"/>
<rect x="161.77" y="290.2" width="10.74" height="11.4" fill="#c7fa47"/>
<rect x="161.77" y="300.6" width="10.74" height="11.4" fill="#bafa54"/>
<rect x="161.77" y="311" width="10.74" height="11.4" fill="#bafa54"/>
<rect x="161.77" y="321.4" width="10.74" height="11.4" fill="#d2f93d"/>
<rect x="161.77" y="331.8" width="10.74" height="10.4" fill="#b4fa5a"/>
<rect x="171.51" y="186.2" width="10.74" height="11.4" fill="#1c00fd"/>
<rect x="171.51" y="196.6" width="10.74" height="11.4" fill="#1c00fd"/>
<rect x="171.51" y="207" width="10.74" height="11.4" fill="#1c00fd"/>
<rect x="171.51" y="217.4" width="10.74" height="11.4" fill="#1c00fd"/>
<rect x="171.51" y="227.8" width="10.74" height="11.4" fill="#1c00fd"/>
<rect x="171.51" y="238.2" width="10.74" height="11.4" fill="#1c00fd"/>
<rect x="171.51" y="248.6" width="10.74" height="11.4" fill="#1c00fd"/>
<rect x="171.51" y="259" width="10.74" height="11.4" fill="#375aff"/>
<rect x="171.51" y="269.4" width="10.74" height="11.4" fill="#6ef0ff"/>
<rect x="171.51" y="279.8" width="10.74" height="11.4" fill="#7dfad7"/>
<rect x="171.51" y="290.2" width="10.74" height="11.4" fill="#84fac1"/>
<rect x="171.51" y="300.6" width="10.74" height="11.4" fill="#96fa93"/>
<rect x="171.51" y="311" width="10.74" height="11.4" fill="#affa63"/>
<rect x="171.51" y="321.4" width="10.74" height="11.4" fill="#b4fa5a"/>
<rect x="171.51" y="331.8" width="10.74" height="10.4" fill="#affa63"/>
<rect x="181.25" y="186.2" width="10.74" height="11.4" fill="#1c00fd"/>
<rect x="181.25" y="196.6" width="10.74" height="11.4" fill="#1c00fd"/>
<rect x="181.25" y="207" width="10.74" height="11.4" fill="#1c00fd"/>
<rect x="181.25" y="217.4" width="10.74" height="11.4" fill="#1c00fd"/>
<rect x="181.25" y="227.8" width="10.74" height="11.4" fill="#1c00fd"/>
<rect x="181.25" y="238.2" width="10.74" height="11.4" fill="#1c00fd"/>
<rect x="181.25" y="248.6" width="10.74" height="11.4" fill="#1c00fd"/>
<rect x="181.25" y="259" width="10.74" height="11.4" fill="#1c00fd"/>
<rect x="181.25" y="269.4" width="10.74" height="11.4" fill="#1c00fd"/>
<rect x="181.25" y="279.8" width="10.74" height="11.4" fill="#458cff"/>
<rect x="181.25" y="290.2" width="10.74" height="11.4" fill="#76f5eb"/>
<rect x="181.25" y="300.6" width="10.74" height="11.4" fill="#aafa6c"/>
<rect x="181.25" y="311" width="10.74" height="11.4" fill="#aafa6c"/>
<rect x="181.25" y="321.4" width="10.74" height="11.4" fill="#affa63"/>
<rect x="181.25" y="331.8" width="10.74" height="10.4" fill="#affa63"/>
<rect x="190.99" y="186.2" width="10.74" height="11.4" fill="#1c00fd"/>
<rect x="190.99" y="196.6" width="10.74" height="11.4" fill="#1c00fd"/>
<rect x="190.99" y="207" width="10.74" height="11.4" fill="#1c00fd"/>
<rect x="190.99" y="217.4" width="10.74" height="11.4" fill="#1c00fd"/>
<rect x="190.99" y="227.8" width="10.74" height="11.4" fill="#1c00fd"/>
<rect x="190.99" y="238.2" width="10.74" height="11.4" fill="#1c00fd"/>
<rect x="190.99" y="248.6" width="10.74" height="11.4" fill="#1c00fd"/>
<rect x="190.99" y="259" width="10.74" height="11.4" fill="#1c00fd"/>
<rect x="190.99" y="269.4" width="10.74" height="11.4" fill="#241eff"/>
<rect x="190.99" y="279.8" width="10.74" height="11.4" fill="#63daff"/>
<rect x="190.99" y="290.2" width="10.74" height="11.4" fill="#88fab5"/>
<rect x="190.99" y="300.6" width="10.74" height="11.4" fill="#bafa54"/>
<rect x="190.99" y="311" width="10.74" height="11.4" fill="#e4f032"/>
<rect x="190.99" y="321.4" width="10.74" height="11.4" fill="#eed030"/>
<rect x="190.99" y="331.8" width="10.74" height="10.4" fill="#f1af2b"/>
<rect x="200.73" y="186.2" width="10.74" height="11.4" fill="#1c00fd"/>
<rect x="200.73" y="196.6" width="10.74" height="11.4" fill="#1c00fd"/>
<rect x="200.73" y="207" width="10.74" height="11.4" fill="#1c00fd"/>
<rect x="200.73" y="217.4" width="10.74" height="11.4" fill="#1c00fd"/>
<rect x="200.73" y="227.8" width="10.74" height="11.4" fill="#1c00fd"/>
<rect x="200.73" y="238.2" width="10.74" height="11.4" fill="#1c00fd"/>
<rect x="200.73" y="248.6" width="10.74" height="11.4" fill="#1c00fd"/>
<rect x="200.73" y="259" width="10.74" height="11.4" fill="#1c00fd"/>
<rect x="200.73" y="269.4" width="10.74" height="11.4" fill="#241eff"/>
<rect x="200.73" y="279.8" width="10.74" height="11.4" fill="#50aaff"/>
<rect x="200.73" y="290.2" width="10.74" height="11.4" fill="#7dfad7"/>
<rect x="200.73" y="300.6" width="10.74" height="11.4" fill="#aafa6c"/>
<rect x="200.73" y="311" width="10.74" height="11.4" fill="#c7fa47"/>
<rect x="200.73" y="321.4" width="10.74" height="11.4" fill="#d2f93d"/>
<rect x="200.73" y="331.8" width="10.74" height="10.4" fill="#c7fa47"/>
<rect x="210.47" y="186.2" width="9.74" height="11.4" fill="#1c00fd"/>
<rect x="210.47" y="196.6" width="9.74" height="11.4" fill="#1c00fd"/>
<rect x="210.47" y="207" width="9.74" height="11.4" fill="#1c00fd"/>
<rect x="210.47" y="217.4" width="9.74" height="11.4" fill="#1c00fd"/>
<rect x="210.47" y="227.8" width="9.74" height="11.4" fill="#1c00fd"/>
<rect x="210.47" y="238.2" width="9.74" height="11.4" fill="#1c00fd"/>
<rect x="210.47" y="248.6" width="9.74" height="11.4" fill="#1c00fd"/>
<rect x="210.47" y="259" width="9.74" height="11.4" fill="#1c00fd"/>
<rect x="210.47" y="269.4" width="9.74" height="11.4" fill="#375aff"/>
<rect x="210.47" y="279.8" width="9.74" height="11.4" fill="#7dfad7"/>
<rect x="210.47" y="290.2" width="9.74" height="11.4" fill="#96fa93"/>
<rect x="210.47" y="300.6" width="9.74" height="11.4" fill="#aafa6c"/>
<rect x="210.47" y="311" width="9.74" height="11.4" fill="#d2f93d"/>
<rect x="210.47" y="321.4" width="9.74" height="11.4" fill="#d2f93d"/>
<rect x="210.47" y="331.8" width="9.74" height="10.4" fill="#b4fa5a"/>
<circle cx="117.94" cy="336.6" r="2.8" fill="#cdfa41"/>
<circle cx="127.68" cy="336.6" r="2.8" fill="#7dfad7"/>
<circle cx="137.42" cy="336.6" r="2.8" fill="#aafa6c"/>
<circle cx="147.16" cy="336.6" r="2.8" fill="#e6eb32"/>
<circle cx="166.64" cy="336.6" r="2.8" fill="#f25618"/>
<circle cx="176.38" cy="336.6" r="2.8" fill="#e52910"/>
<circle cx="186.12" cy="336.6" r="2.8" fill="#ec3613"/>
<circle cx="195.86" cy="336.6" r="2.8" fill="#f49126"/>
<circle cx="205.6" cy="336.6" r="2.8" fill="#f03c14"/>
<circle cx="215.34" cy="336.6" r="2.8" fill="#9b0804"/>
<rect x="371.75" y="186.2" width="10.74" height="11.4" fill="#1c00fd"/>
<rect x="371.75" y="196.6" width="10.74" height="11.4" fill="#1c00fd"/>
<rect x="371.75" y="207" width="10.74" height="11.4" fill="#375aff"/>
<rect x="371.75" y="217.4" width="10.74" height="11.4" fill="#6ae8ff"/>
<rect x="371.75" y="227.8" width="10.74" height="11.4" fill="#6ae8ff"/>
<rect x="371.75" y="238.2" width="10.74" height="11.4" fill="#50aaff"/>
<rect x="371.75" y="248.6" width="10.74" height="11.4" fill="#50aaff"/>
<rect x="371.75" y="259" width="10.74" height="11.4" fill="#67e1ff"/>
<rect x="371.75" y="269.4" width="10.74" height="11.4" fill="#eed030"/>
<rect x="371.75" y="279.8" width="10.74" height="11.4" fill="#ec3613"/>
<rect x="371.75" y="290.2" width="10.74" height="11.4" fill="#91fa9f"/>
<rect x="371.75" y="300.6" width="10.74" height="11.4" fill="#3e78ff"/>
<rect x="371.75" y="311" width="10.74" height="11.4" fill="#241eff"/>
<rect x="371.75" y="321.4" width="10.74" height="11.4" fill="#2d39ff"/>
<rect x="371.75" y="331.8" width="10.74" height="10.4" fill="#50aaff"/>
<rect x="381.49" y="186.2" width="9.74" height="11.4" fill="#1c00fd"/>
<rect x="381.49" y="196.6" width="9.74" height="11.4" fill="#1c00fd"/>
<rect x="381.49" y="207" width="9.74" height="11.4" fill="#1c00fd"/>
<rect x="381.49" y="217.4" width="9.74" height="11.4" fill="#1c00fd"/>
<rect x="381.49" y="227.8" width="9.74" height="11.4" fill="#1c00fd"/>
<rect x="381.49" y="238.2" width="9.74" height="11.4" fill="#4ca0ff"/>
<rect x="381.49" y="248.6" width="9.74" height="11.4" fill="#67e1ff"/>
<rect x="381.49" y="259" width="9.74" height="11.4" fill="#88fab5"/>
<rect x="381.49" y="269.4" width="9.74" height="11.4" fill="#f1af2b"/>
<rect x="381.49" y="279.8" width="9.74" height="11.4" fill="#f1af2b"/>
<rect x="381.49" y="290.2" width="9.74" height="11.4" fill="#d2f93d"/>
<rect x="381.49" y="300.6" width="9.74" height="11.4" fill="#d2f93d"/>
<rect x="381.49" y="311" width="9.74" height="11.4" fill="#84fac1"/>
<rect x="381.49" y="321.4" width="9.74" height="11.4" fill="#6ae8ff"/>
<rect x="381.49" y="331.8" width="9.74" height="10.4" fill="#50aaff"/>
<rect x="420.45" y="186.2" width="9.74" height="11.4" fill="#1c00fd"/>
<rect x="420.45" y="196.6" width="9.74" height="11.4" fill="#1c00fd"/>
<rect x="420.45" y="207" width="9.74" height="11.4" fill="#1c00fd"/>
<rect x="420.45" y="217.4" width="9.74" height="11.4" fill="#1c00fd"/>
<rect x="420.45" y="227.8" width="9.74" height="11.4" fill="#1c00fd"/>
<rect x="420.45" y="238.2" width="9.74" height="11.4" fill="#1900ff"/>
<rect x="420.45" y="248.6" width="9.74" height="11.4" fill="#2014ff"/>
<rect x="420.45" y="259" width="9.74" height="11.4" fill="#3a64ff"/>
<rect x="420.45" y="269.4" width="9.74" height="11.4" fill="#81facc"/>
<rect x="420.45" y="279.8" width="9.74" height="11.4" fill="#d2f93d"/>
<rect x="420.45" y="290.2" width="9.74" height="11.4" fill="#d7f83a"/>
<rect x="420.45" y="300.6" width="9.74" height="11.4" fill="#d7f83a"/>
<rect x="420.45" y="311" width="9.74" height="11.4" fill="#c7fa47"/>
<rect x="420.45" y="321.4" width="9.74" height="11.4" fill="#6ae8ff"/>
<rect x="420.45" y="331.8" width="9.74" height="10.4" fill="#50aaff"/>
<circle cx="376.62" cy="336.6" r="2.8" fill="#a0fa7d"/>
<circle cx="386.36" cy="336.6" r="2.8" fill="#84fac1"/>
<circle cx="425.32" cy="336.6" r="2.8" fill="#a0fa7d"/>
<rect x="562.35" y="186.2" width="10.74" height="11.4" fill="#2000fc"/>
<rect x="562.35" y="196.6" width="10.74" height="11.4" fill="#2000fc"/>
<rect x="562.35" y="207" width="10.74" height="11.4" fill="#2014ff"/>
<rect x="562.35" y="217.4" width="10.74" height="11.4" fill="#458cff"/>
<rect x="562.35" y="227.8" width="10.74" height="11.4" fill="#81facc"/>
<rect x="562.35" y="238.2" width="10.74" height="11.4" fill="#91fa9f"/>
<rect x="562.35" y="248.6" width="10.74" height="11.4" fill="#bafa54"/>
<rect x="562.35" y="259" width="10.74" height="11.4" fill="#e4f032"/>
<rect x="562.35" y="269.4" width="10.74" height="11.4" fill="#e4f032"/>
<rect x="562.35" y="279.8" width="10.74" height="11.4" fill="#96fa93"/>
<rect x="562.35" y="290.2" width="10.74" height="11.4" fill="#458cff"/>
<rect x="562.35" y="300.6" width="10.74" height="11.4" fill="#1900ff"/>
<rect x="562.35" y="311" width="10.74" height="11.4" fill="#1900ff"/>
<rect x="562.35" y="321.4" width="10.74" height="11.4" fill="#1900ff"/>
<rect x="562.35" y="331.8" width="10.74" height="10.4" fill="#241eff"/>
<rect x="572.09" y="186.2" width="10.74" height="11.4" fill="#1c00fd"/>
<rect x="572.09" y="196.6" width="10.74" height="11.4" fill="#1c00fd"/>
<rect x="572.09" y="207" width="10.74" height="11.4" fill="#1c00fd"/>
<rect x="572.09" y="217.4" width="10.74" height="11.4" fill="#1c00fd"/>
<rect x="572.09" y="227.8" width="10.74" height="11.4" fill="#2014ff"/>
<rect x="572.09" y="238.2" width="10.74" height="11.4" fill="#2828ff"/>
<rect x="572.09" y="248.6" width="10.74" height="11.4" fill="#4182ff"/>
<rect x="572.09" y="259" width="10.74" height="11.4" fill="#81facc"/>
<rect x="572.09" y="269.4" width="10.74" height="11.4" fill="#c7fa47"/>
<rect x="572.09" y="279.8" width="10.74" height="11.4" fill="#f2a028"/>
<rect x="572.09" y="290.2" width="10.74" height="11.4" fill="#f2a028"/>
<rect x="572.09" y="300.6" width="10.74" height="11.4" fill="#91fa9f"/>
<rect x="572.09" y="311" width="10.74" height="11.4" fill="#1900ff"/>
<rect x="572.09" y="321.4" width="10.74" height="11.4" fill="#1900ff"/>
<rect x="572.09" y="331.8" width="10.74" height="10.4" fill="#3249ff"/>
<rect x="581.83" y="186.2" width="9.74" height="11.4" fill="#1c00fd"/>
<rect x="581.83" y="196.6" width="9.74" height="11.4" fill="#1c00fd"/>
<rect x="581.83" y="207" width="9.74" height="11.4" fill="#1c00fd"/>
<rect x="581.83" y="217.4" width="9.74" height="11.4" fill="#1c00fd"/>
<rect x="581.83" y="227.8" width="9.74" height="11.4" fill="#1c00fd"/>
<rect x="581.83" y="238.2" width="9.74" height="11.4" fill="#2828ff"/>
<rect x="581.83" y="248.6" width="9.74" height="11.4" fill="#3a64ff"/>
<rect x="581.83" y="259" width="9.74" height="11.4" fill="#6ae8ff"/>
<rect x="581.83" y="269.4" width="9.74" height="11.4" fill="#d2f93d"/>
<rect x="581.83" y="279.8" width="9.74" height="11.4" fill="#f2a028"/>
<rect x="581.83" y="290.2" width="9.74" height="11.4" fill="#f2a028"/>
<rect x="581.83" y="300.6" width="9.74" height="11.4" fill="#e4f032"/>
<rect x="581.83" y="311" width="9.74" height="11.4" fill="#4182ff"/>
<rect x="581.83" y="321.4" width="9.74" height="11.4" fill="#241eff"/>
<rect x="581.83" y="331.8" width="9.74" height="10.4" fill="#458cff"/>
<circle cx="567.22" cy="336.6" r="2.8" fill="#72f2f5"/>
<circle cx="576.96" cy="336.6" r="2.8" fill="#5bc8ff"/>
<circle cx="586.7" cy="336.6" r="2.8" fill="#91fa9f"/>
<rect x="59.5" y="15.8" width="181.8" height="160.6" fill="none" stroke="#7a7a7a" stroke-width="1"/>
<line x1="57.2" y1="174.2" x2="59.5" y2="174.2" stroke="#6e6e6e" stroke-width="0.9"/>
<line x1="57.2" y1="153.4" x2="59.5" y2="153.4" stroke="#6e6e6e" stroke-width="0.9"/>
<line x1="57.2" y1="132.6" x2="59.5" y2="132.6" stroke="#6e6e6e" stroke-width="0.9"/>
<line x1="57.2" y1="111.8" x2="59.5" y2="111.8" stroke="#6e6e6e" stroke-width="0.9"/>
<line x1="57.2" y1="91" x2="59.5" y2="91" stroke="#6e6e6e" stroke-width="0.9"/>
<line x1="57.2" y1="70.2" x2="59.5" y2="70.2" stroke="#6e6e6e" stroke-width="0.9"/>
<line x1="57.2" y1="49.4" x2="59.5" y2="49.4" stroke="#6e6e6e" stroke-width="0.9"/>
<line x1="57.2" y1="28.6" x2="59.5" y2="28.6" stroke="#6e6e6e" stroke-width="0.9"/>
<line x1="59.5" y1="176.4" x2="59.5" y2="178.7" stroke="#6e6e6e" stroke-width="0.9"/>
<line x1="69.24" y1="176.4" x2="69.24" y2="178.7" stroke="#6e6e6e" stroke-width="0.9"/>
<line x1="78.98" y1="176.4" x2="78.98" y2="178.7" stroke="#6e6e6e" stroke-width="0.9"/>
<line x1="88.72" y1="176.4" x2="88.72" y2="178.7" stroke="#6e6e6e" stroke-width="0.9"/>
<line x1="98.46" y1="176.4" x2="98.46" y2="178.7" stroke="#6e6e6e" stroke-width="0.9"/>
<line x1="108.2" y1="176.4" x2="108.2" y2="178.7" stroke="#6e6e6e" stroke-width="0.9"/>
<line x1="117.94" y1="176.4" x2="117.94" y2="178.7" stroke="#6e6e6e" stroke-width="0.9"/>
<line x1="127.68" y1="176.4" x2="127.68" y2="178.7" stroke="#6e6e6e" stroke-width="0.9"/>
<line x1="137.42" y1="176.4" x2="137.42" y2="178.7" stroke="#6e6e6e" stroke-width="0.9"/>
<line x1="147.16" y1="176.4" x2="147.16" y2="178.7" stroke="#6e6e6e" stroke-width="0.9"/>
<line x1="156.9" y1="176.4" x2="156.9" y2="178.7" stroke="#6e6e6e" stroke-width="0.9"/>
<line x1="166.64" y1="176.4" x2="166.64" y2="178.7" stroke="#6e6e6e" stroke-width="0.9"/>
<line x1="176.38" y1="176.4" x2="176.38" y2="178.7" stroke="#6e6e6e" stroke-width="0.9"/>
<line x1="186.12" y1="176.4" x2="186.12" y2="178.7" stroke="#6e6e6e" stroke-width="0.9"/>
<line x1="195.86" y1="176.4" x2="195.86" y2="178.7" stroke="#6e6e6e" stroke-width="0.9"/>
<line x1="205.6" y1="176.4" x2="205.6" y2="178.7" stroke="#6e6e6e" stroke-width="0.9"/>
<line x1="215.34" y1="176.4" x2="215.34" y2="178.7" stroke="#6e6e6e" stroke-width="0.9"/>
<line x1="225.08" y1="176.4" x2="225.08" y2="178.7" stroke="#6e6e6e" stroke-width="0.9"/>
<line x1="234.82" y1="176.4" x2="234.82" y2="178.7" stroke="#6e6e6e" stroke-width="0.9"/>
<rect x="250" y="15.8" width="181.8" height="160.6" fill="none" stroke="#7a7a7a" stroke-width="1"/>
<line x1="247.7" y1="174.2" x2="250" y2="174.2" stroke="#6e6e6e" stroke-width="0.9"/>
<line x1="247.7" y1="153.4" x2="250" y2="153.4" stroke="#6e6e6e" stroke-width="0.9"/>
<line x1="247.7" y1="132.6" x2="250" y2="132.6" stroke="#6e6e6e" stroke-width="0.9"/>
<line x1="247.7" y1="111.8" x2="250" y2="111.8" stroke="#6e6e6e" stroke-width="0.9"/>
<line x1="247.7" y1="91" x2="250" y2="91" stroke="#6e6e6e" stroke-width="0.9"/>
<line x1="247.7" y1="70.2" x2="250" y2="70.2" stroke="#6e6e6e" stroke-width="0.9"/>
<line x1="247.7" y1="49.4" x2="250" y2="49.4" stroke="#6e6e6e" stroke-width="0.9"/>
<line x1="247.7" y1="28.6" x2="250" y2="28.6" stroke="#6e6e6e" stroke-width="0.9"/>
<line x1="250" y1="176.4" x2="250" y2="178.7" stroke="#6e6e6e" stroke-width="0.9"/>
<line x1="259.74" y1="176.4" x2="259.74" y2="178.7" stroke="#6e6e6e" stroke-width="0.9"/>
<line x1="269.48" y1="176.4" x2="269.48" y2="178.7" stroke="#6e6e6e" stroke-width="0.9"/>
<line x1="279.22" y1="176.4" x2="279.22" y2="178.7" stroke="#6e6e6e" stroke-width="0.9"/>
<line x1="288.96" y1="176.4" x2="288.96" y2="178.7" stroke="#6e6e6e" stroke-width="0.9"/>
<line x1="298.7" y1="176.4" x2="298.7" y2="178.7" stroke="#6e6e6e" stroke-width="0.9"/>
<line x1="308.44" y1="176.4" x2="308.44" y2="178.7" stroke="#6e6e6e" stroke-width="0.9"/>
<line x1="318.18" y1="176.4" x2="318.18" y2="178.7" stroke="#6e6e6e" stroke-width="0.9"/>
<line x1="327.92" y1="176.4" x2="327.92" y2="178.7" stroke="#6e6e6e" stroke-width="0.9"/>
<line x1="337.66" y1="176.4" x2="337.66" y2="178.7" stroke="#6e6e6e" stroke-width="0.9"/>
<line x1="347.4" y1="176.4" x2="347.4" y2="178.7" stroke="#6e6e6e" stroke-width="0.9"/>
<line x1="357.14" y1="176.4" x2="357.14" y2="178.7" stroke="#6e6e6e" stroke-width="0.9"/>
<line x1="366.88" y1="176.4" x2="366.88" y2="178.7" stroke="#6e6e6e" stroke-width="0.9"/>
<line x1="376.62" y1="176.4" x2="376.62" y2="178.7" stroke="#6e6e6e" stroke-width="0.9"/>
<line x1="386.36" y1="176.4" x2="386.36" y2="178.7" stroke="#6e6e6e" stroke-width="0.9"/>
<line x1="396.1" y1="176.4" x2="396.1" y2="178.7" stroke="#6e6e6e" stroke-width="0.9"/>
<line x1="405.84" y1="176.4" x2="405.84" y2="178.7" stroke="#6e6e6e" stroke-width="0.9"/>
<line x1="415.58" y1="176.4" x2="415.58" y2="178.7" stroke="#6e6e6e" stroke-width="0.9"/>
<line x1="425.32" y1="176.4" x2="425.32" y2="178.7" stroke="#6e6e6e" stroke-width="0.9"/>
<rect x="440.6" y="15.8" width="181.8" height="160.6" fill="none" stroke="#7a7a7a" stroke-width="1"/>
<line x1="438.3" y1="174.2" x2="440.6" y2="174.2" stroke="#6e6e6e" stroke-width="0.9"/>
<line x1="438.3" y1="153.4" x2="440.6" y2="153.4" stroke="#6e6e6e" stroke-width="0.9"/>
<line x1="438.3" y1="132.6" x2="440.6" y2="132.6" stroke="#6e6e6e" stroke-width="0.9"/>
<line x1="438.3" y1="111.8" x2="440.6" y2="111.8" stroke="#6e6e6e" stroke-width="0.9"/>
<line x1="438.3" y1="91" x2="440.6" y2="91" stroke="#6e6e6e" stroke-width="0.9"/>
<line x1="438.3" y1="70.2" x2="440.6" y2="70.2" stroke="#6e6e6e" stroke-width="0.9"/>
<line x1="438.3" y1="49.4" x2="440.6" y2="49.4" stroke="#6e6e6e" stroke-width="0.9"/>
<line x1="438.3" y1="28.6" x2="440.6" y2="28.6" stroke="#6e6e6e" stroke-width="0.9"/>
<line x1="440.6" y1="176.4" x2="440.6" y2="178.7" stroke="#6e6e6e" stroke-width="0.9"/>
<line x1="450.34" y1="176.4" x2="450.34" y2="178.7" stroke="#6e6e6e" stroke-width="0.9"/>
<line x1="460.08" y1="176.4" x2="460.08" y2="178.7" stroke="#6e6e6e" stroke-width="0.9"/>
<line x1="469.82" y1="176.4" x2="469.82" y2="178.7" stroke="#6e6e6e" stroke-width="0.9"/>
<line x1="479.56" y1="176.4" x2="479.56" y2="178.7" stroke="#6e6e6e" stroke-width="0.9"/>
<line x1="489.3" y1="176.4" x2="489.3" y2="178.7" stroke="#6e6e6e" stroke-width="0.9"/>
<line x1="499.04" y1="176.4" x2="499.04" y2="178.7" stroke="#6e6e6e" stroke-width="0.9"/>
<line x1="508.78" y1="176.4" x2="508.78" y2="178.7" stroke="#6e6e6e" stroke-width="0.9"/>
<line x1="518.52" y1="176.4" x2="518.52" y2="178.7" stroke="#6e6e6e" stroke-width="0.9"/>
<line x1="528.26" y1="176.4" x2="528.26" y2="178.7" stroke="#6e6e6e" stroke-width="0.9"/>
<line x1="538" y1="176.4" x2="538" y2="178.7" stroke="#6e6e6e" stroke-width="0.9"/>
<line x1="547.74" y1="176.4" x2="547.74" y2="178.7" stroke="#6e6e6e" stroke-width="0.9"/>
<line x1="557.48" y1="176.4" x2="557.48" y2="178.7" stroke="#6e6e6e" stroke-width="0.9"/>
<line x1="567.22" y1="176.4" x2="567.22" y2="178.7" stroke="#6e6e6e" stroke-width="0.9"/>
<line x1="576.96" y1="176.4" x2="576.96" y2="178.7" stroke="#6e6e6e" stroke-width="0.9"/>
<line x1="586.7" y1="176.4" x2="586.7" y2="178.7" stroke="#6e6e6e" stroke-width="0.9"/>
<line x1="596.44" y1="176.4" x2="596.44" y2="178.7" stroke="#6e6e6e" stroke-width="0.9"/>
<line x1="606.18" y1="176.4" x2="606.18" y2="178.7" stroke="#6e6e6e" stroke-width="0.9"/>
<line x1="615.92" y1="176.4" x2="615.92" y2="178.7" stroke="#6e6e6e" stroke-width="0.9"/>
<rect x="59.5" y="184.3" width="181.8" height="160.1" fill="none" stroke="#7a7a7a" stroke-width="1"/>
<line x1="57.2" y1="342.2" x2="59.5" y2="342.2" stroke="#6e6e6e" stroke-width="0.9"/>
<line x1="57.2" y1="321.4" x2="59.5" y2="321.4" stroke="#6e6e6e" stroke-width="0.9"/>
<line x1="57.2" y1="300.6" x2="59.5" y2="300.6" stroke="#6e6e6e" stroke-width="0.9"/>
<line x1="57.2" y1="279.8" x2="59.5" y2="279.8" stroke="#6e6e6e" stroke-width="0.9"/>
<line x1="57.2" y1="259" x2="59.5" y2="259" stroke="#6e6e6e" stroke-width="0.9"/>
<line x1="57.2" y1="238.2" x2="59.5" y2="238.2" stroke="#6e6e6e" stroke-width="0.9"/>
<line x1="57.2" y1="217.4" x2="59.5" y2="217.4" stroke="#6e6e6e" stroke-width="0.9"/>
<line x1="57.2" y1="196.6" x2="59.5" y2="196.6" stroke="#6e6e6e" stroke-width="0.9"/>
<line x1="59.5" y1="344.4" x2="59.5" y2="346.7" stroke="#6e6e6e" stroke-width="0.9"/>
<line x1="69.24" y1="344.4" x2="69.24" y2="346.7" stroke="#6e6e6e" stroke-width="0.9"/>
<line x1="78.98" y1="344.4" x2="78.98" y2="346.7" stroke="#6e6e6e" stroke-width="0.9"/>
<line x1="88.72" y1="344.4" x2="88.72" y2="346.7" stroke="#6e6e6e" stroke-width="0.9"/>
<line x1="98.46" y1="344.4" x2="98.46" y2="346.7" stroke="#6e6e6e" stroke-width="0.9"/>
<line x1="108.2" y1="344.4" x2="108.2" y2="346.7" stroke="#6e6e6e" stroke-width="0.9"/>
<line x1="117.94" y1="344.4" x2="117.94" y2="346.7" stroke="#6e6e6e" stroke-width="0.9"/>
<line x1="127.68" y1="344.4" x2="127.68" y2="346.7" stroke="#6e6e6e" stroke-width="0.9"/>
<line x1="137.42" y1="344.4" x2="137.42" y2="346.7" stroke="#6e6e6e" stroke-width="0.9"/>
<line x1="147.16" y1="344.4" x2="147.16" y2="346.7" stroke="#6e6e6e" stroke-width="0.9"/>
<line x1="156.9" y1="344.4" x2="156.9" y2="346.7" stroke="#6e6e6e" stroke-width="0.9"/>
<line x1="166.64" y1="344.4" x2="166.64" y2="346.7" stroke="#6e6e6e" stroke-width="0.9"/>
<line x1="176.38" y1="344.4" x2="176.38" y2="346.7" stroke="#6e6e6e" stroke-width="0.9"/>
<line x1="186.12" y1="344.4" x2="186.12" y2="346.7" stroke="#6e6e6e" stroke-width="0.9"/>
<line x1="195.86" y1="344.4" x2="195.86" y2="346.7" stroke="#6e6e6e" stroke-width="0.9"/>
<line x1="205.6" y1="344.4" x2="205.6" y2="346.7" stroke="#6e6e6e" stroke-width="0.9"/>
<line x1="215.34" y1="344.4" x2="215.34" y2="346.7" stroke="#6e6e6e" stroke-width="0.9"/>
<line x1="225.08" y1="344.4" x2="225.08" y2="346.7" stroke="#6e6e6e" stroke-width="0.9"/>
<line x1="234.82" y1="344.4" x2="234.82" y2="346.7" stroke="#6e6e6e" stroke-width="0.9"/>
<rect x="250" y="184.3" width="181.8" height="160.1" fill="none" stroke="#7a7a7a" stroke-width="1"/>
<line x1="247.7" y1="342.2" x2="250" y2="342.2" stroke="#6e6e6e" stroke-width="0.9"/>
<line x1="247.7" y1="321.4" x2="250" y2="321.4" stroke="#6e6e6e" stroke-width="0.9"/>
<line x1="247.7" y1="300.6" x2="250" y2="300.6" stroke="#6e6e6e" stroke-width="0.9"/>
<line x1="247.7" y1="279.8" x2="250" y2="279.8" stroke="#6e6e6e" stroke-width="0.9"/>
<line x1="247.7" y1="259" x2="250" y2="259" stroke="#6e6e6e" stroke-width="0.9"/>
<line x1="247.7" y1="238.2" x2="250" y2="238.2" stroke="#6e6e6e" stroke-width="0.9"/>
<line x1="247.7" y1="217.4" x2="250" y2="217.4" stroke="#6e6e6e" stroke-width="0.9"/>
<line x1="247.7" y1="196.6" x2="250" y2="196.6" stroke="#6e6e6e" stroke-width="0.9"/>
<line x1="250" y1="344.4" x2="250" y2="346.7" stroke="#6e6e6e" stroke-width="0.9"/>
<line x1="259.74" y1="344.4" x2="259.74" y2="346.7" stroke="#6e6e6e" stroke-width="0.9"/>
<line x1="269.48" y1="344.4" x2="269.48" y2="346.7" stroke="#6e6e6e" stroke-width="0.9"/>
<line x1="279.22" y1="344.4" x2="279.22" y2="346.7" stroke="#6e6e6e" stroke-width="0.9"/>
<line x1="288.96" y1="344.4" x2="288.96" y2="346.7" stroke="#6e6e6e" stroke-width="0.9"/>
<line x1="298.7" y1="344.4" x2="298.7" y2="346.7" stroke="#6e6e6e" stroke-width="0.9"/>
<line x1="308.44" y1="344.4" x2="308.44" y2="346.7" stroke="#6e6e6e" stroke-width="0.9"/>
<line x1="318.18" y1="344.4" x2="318.18" y2="346.7" stroke="#6e6e6e" stroke-width="0.9"/>
<line x1="327.92" y1="344.4" x2="327.92" y2="346.7" stroke="#6e6e6e" stroke-width="0.9"/>
<line x1="337.66" y1="344.4" x2="337.66" y2="346.7" stroke="#6e6e6e" stroke-width="0.9"/>
<line x1="347.4" y1="344.4" x2="347.4" y2="346.7" stroke="#6e6e6e" stroke-width="0.9"/>
<line x1="357.14" y1="344.4" x2="357.14" y2="346.7" stroke="#6e6e6e" stroke-width="0.9"/>
<line x1="366.88" y1="344.4" x2="366.88" y2="346.7" stroke="#6e6e6e" stroke-width="0.9"/>
<line x1="376.62" y1="344.4" x2="376.62" y2="346.7" stroke="#6e6e6e" stroke-width="0.9"/>
<line x1="386.36" y1="344.4" x2="386.36" y2="346.7" stroke="#6e6e6e" stroke-width="0.9"/>
<line x1="396.1" y1="344.4" x2="396.1" y2="346.7" stroke="#6e6e6e" stroke-width="0.9"/>
<line x1="405.84" y1="344.4" x2="405.84" y2="346.7" stroke="#6e6e6e" stroke-width="0.9"/>
<line x1="415.58" y1="344.4" x2="415.58" y2="346.7" stroke="#6e6e6e" stroke-width="0.9"/>
<line x1="425.32" y1="344.4" x2="425.32" y2="346.7" stroke="#6e6e6e" stroke-width="0.9"/>
<rect x="440.6" y="184.3" width="181.8" height="160.1" fill="none" stroke="#7a7a7a" stroke-width="1"/>
<line x1="438.3" y1="342.2" x2="440.6" y2="342.2" stroke="#6e6e6e" stroke-width="0.9"/>
<line x1="438.3" y1="321.4" x2="440.6" y2="321.4" stroke="#6e6e6e" stroke-width="0.9"/>
<line x1="438.3" y1="300.6" x2="440.6" y2="300.6" stroke="#6e6e6e" stroke-width="0.9"/>
<line x1="438.3" y1="279.8" x2="440.6" y2="279.8" stroke="#6e6e6e" stroke-width="0.9"/>
<line x1="438.3" y1="259" x2="440.6" y2="259" stroke="#6e6e6e" stroke-width="0.9"/>
<line x1="438.3" y1="238.2" x2="440.6" y2="238.2" stroke="#6e6e6e" stroke-width="0.9"/>
<line x1="438.3" y1="217.4" x2="440.6" y2="217.4" stroke="#6e6e6e" stroke-width="0.9"/>
<line x1="438.3" y1="196.6" x2="440.6" y2="196.6" stroke="#6e6e6e" stroke-width="0.9"/>
<line x1="440.6" y1="344.4" x2="440.6" y2="346.7" stroke="#6e6e6e" stroke-width="0.9"/>
<line x1="450.34" y1="344.4" x2="450.34" y2="346.7" stroke="#6e6e6e" stroke-width="0.9"/>
<line x1="460.08" y1="344.4" x2="460.08" y2="346.7" stroke="#6e6e6e" stroke-width="0.9"/>
<line x1="469.82" y1="344.4" x2="469.82" y2="346.7" stroke="#6e6e6e" stroke-width="0.9"/>
<line x1="479.56" y1="344.4" x2="479.56" y2="346.7" stroke="#6e6e6e" stroke-width="0.9"/>
<line x1="489.3" y1="344.4" x2="489.3" y2="346.7" stroke="#6e6e6e" stroke-width="0.9"/>
<line x1="499.04" y1="344.4" x2="499.04" y2="346.7" stroke="#6e6e6e" stroke-width="0.9"/>
<line x1="508.78" y1="344.4" x2="508.78" y2="346.7" stroke="#6e6e6e" stroke-width="0.9"/>
<line x1="518.52" y1="344.4" x2="518.52" y2="346.7" stroke="#6e6e6e" stroke-width="0.9"/>
<line x1="528.26" y1="344.4" x2="528.26" y2="346.7" stroke="#6e6e6e" stroke-width="0.9"/>
<line x1="538" y1="344.4" x2="538" y2="346.7" stroke="#6e6e6e" stroke-width="0.9"/>
<line x1="547.74" y1="344.4" x2="547.74" y2="346.7" stroke="#6e6e6e" stroke-width="0.9"/>
<line x1="557.48" y1="344.4" x2="557.48" y2="346.7" stroke="#6e6e6e" stroke-width="0.9"/>
<line x1="567.22" y1="344.4" x2="567.22" y2="346.7" stroke="#6e6e6e" stroke-width="0.9"/>
<line x1="576.96" y1="344.4" x2="576.96" y2="346.7" stroke="#6e6e6e" stroke-width="0.9"/>
<line x1="586.7" y1="344.4" x2="586.7" y2="346.7" stroke="#6e6e6e" stroke-width="0.9"/>
<line x1="596.44" y1="344.4" x2="596.44" y2="346.7" stroke="#6e6e6e" stroke-width="0.9"/>
<line x1="606.18" y1="344.4" x2="606.18" y2="346.7" stroke="#6e6e6e" stroke-width="0.9"/>
<line x1="615.92" y1="344.4" x2="615.92" y2="346.7" stroke="#6e6e6e" stroke-width="0.9"/>
<text x="56.4" y="176.6" font-size="9.1" fill="#2a2a2a" text-anchor="end">0</text>
<text x="56.4" y="155.8" font-size="9.1" fill="#2a2a2a" text-anchor="end">2</text>
<text x="56.4" y="135" font-size="9.1" fill="#2a2a2a" text-anchor="end">4</text>
<text x="56.4" y="114.2" font-size="9.1" fill="#2a2a2a" text-anchor="end">6</text>
<text x="56.4" y="93.4" font-size="9.1" fill="#2a2a2a" text-anchor="end">8</text>
<text x="56.4" y="72.6" font-size="9.1" fill="#2a2a2a" text-anchor="end">10</text>
<text x="56.4" y="51.8" font-size="9.1" fill="#2a2a2a" text-anchor="end">12</text>
<text x="56.4" y="31" font-size="9.1" fill="#2a2a2a" text-anchor="end">14</text>
<text x="56.4" y="344.6" font-size="9.1" fill="#2a2a2a" text-anchor="end">0</text>
<text x="56.4" y="323.8" font-size="9.1" fill="#2a2a2a" text-anchor="end">2</text>
<text x="56.4" y="303" font-size="9.1" fill="#2a2a2a" text-anchor="end">4</text>
<text x="56.4" y="282.2" font-size="9.1" fill="#2a2a2a" text-anchor="end">6</text>
<text x="56.4" y="261.4" font-size="9.1" fill="#2a2a2a" text-anchor="end">8</text>
<text x="56.4" y="240.6" font-size="9.1" fill="#2a2a2a" text-anchor="end">10</text>
<text x="56.4" y="219.8" font-size="9.1" fill="#2a2a2a" text-anchor="end">12</text>
<text x="56.4" y="199" font-size="9.1" fill="#2a2a2a" text-anchor="end">14</text>
<text x="60.2" y="354.8" font-size="9.1" fill="#2a2a2a" text-anchor="middle">1</text>
<text x="78.38" y="354.8" font-size="9.1" fill="#2a2a2a" text-anchor="middle">3</text>
<text x="97.86" y="354.8" font-size="9.1" fill="#2a2a2a" text-anchor="middle">5</text>
<text x="117.34" y="354.8" font-size="9.1" fill="#2a2a2a" text-anchor="middle">7</text>
<text x="136.82" y="354.8" font-size="9.1" fill="#2a2a2a" text-anchor="middle">9</text>
<text x="156.3" y="354.8" font-size="9.1" fill="#2a2a2a" text-anchor="middle">11</text>
<text x="175.78" y="354.8" font-size="9.1" fill="#2a2a2a" text-anchor="middle">13</text>
<text x="195.26" y="354.8" font-size="9.1" fill="#2a2a2a" text-anchor="middle">15</text>
<text x="214.74" y="354.8" font-size="9.1" fill="#2a2a2a" text-anchor="middle">17</text>
<text x="234.22" y="354.8" font-size="9.1" fill="#2a2a2a" text-anchor="middle">19</text>
<text x="250.7" y="354.8" font-size="9.1" fill="#2a2a2a" text-anchor="middle">1</text>
<text x="269.38" y="354.8" font-size="9.1" fill="#2a2a2a" text-anchor="middle">3</text>
<text x="288.36" y="354.8" font-size="9.1" fill="#2a2a2a" text-anchor="middle">5</text>
<text x="307.84" y="354.8" font-size="9.1" fill="#2a2a2a" text-anchor="middle">7</text>
<text x="327.32" y="354.8" font-size="9.1" fill="#2a2a2a" text-anchor="middle">9</text>
<text x="346.8" y="354.8" font-size="9.1" fill="#2a2a2a" text-anchor="middle">11</text>
<text x="366.28" y="354.8" font-size="9.1" fill="#2a2a2a" text-anchor="middle">13</text>
<text x="385.76" y="354.8" font-size="9.1" fill="#2a2a2a" text-anchor="middle">15</text>
<text x="405.24" y="354.8" font-size="9.1" fill="#2a2a2a" text-anchor="middle">17</text>
<text x="424.72" y="354.8" font-size="9.1" fill="#2a2a2a" text-anchor="middle">19</text>
<text x="443.1" y="354.8" font-size="9.1" fill="#2a2a2a" text-anchor="middle">1</text>
<text x="461.28" y="354.8" font-size="9.1" fill="#2a2a2a" text-anchor="middle">3</text>
<text x="480.76" y="354.8" font-size="9.1" fill="#2a2a2a" text-anchor="middle">5</text>
<text x="500.24" y="354.8" font-size="9.1" fill="#2a2a2a" text-anchor="middle">7</text>
<text x="519.72" y="354.8" font-size="9.1" fill="#2a2a2a" text-anchor="middle">9</text>
<text x="539.2" y="354.8" font-size="9.1" fill="#2a2a2a" text-anchor="middle">11</text>
<text x="558.68" y="354.8" font-size="9.1" fill="#2a2a2a" text-anchor="middle">13</text>
<text x="578.16" y="354.8" font-size="9.1" fill="#2a2a2a" text-anchor="middle">15</text>
<text x="597.64" y="354.8" font-size="9.1" fill="#2a2a2a" text-anchor="middle">17</text>
<text x="617.12" y="354.8" font-size="9.1" fill="#2a2a2a" text-anchor="middle">19</text>
<polyline points="108.2,137.59 117.94,133.12 127.68,132.08 137.42,132.6 147.16,124.8 156.9,123.76 166.64,125.11 176.38,127.61 186.12,131.25 195.86,128.54 205.6,131.25 215.34,133.02 225.08,133.12" fill="none" stroke="#000" stroke-width="2.9" stroke-linejoin="round"/>
<polyline points="108.2,137.59 117.94,133.12 127.68,132.08 137.42,132.6 147.16,124.8 156.9,123.76 166.64,125.11 176.38,127.61 186.12,131.25 195.86,128.54 205.6,131.25 215.34,133.02 225.08,133.12" fill="none" stroke="#f08c2c" stroke-width="1.7" stroke-linejoin="round"/>
<polygon points="108.2,140.89 104.9,134.29 111.5,134.29" fill="#f08c2c" stroke="#000" stroke-width="1.35" stroke-linejoin="miter"/>
<polygon points="117.94,136.42 114.64,129.82 121.24,129.82" fill="#f08c2c" stroke="#000" stroke-width="1.35" stroke-linejoin="miter"/>
<polygon points="127.68,135.38 124.38,128.78 130.98,128.78" fill="#f08c2c" stroke="#000" stroke-width="1.35" stroke-linejoin="miter"/>
<polygon points="137.42,135.9 134.12,129.3 140.72,129.3" fill="#f08c2c" stroke="#000" stroke-width="1.35" stroke-linejoin="miter"/>
<polygon points="147.16,128.1 143.86,121.5 150.46,121.5" fill="#f08c2c" stroke="#000" stroke-width="1.35" stroke-linejoin="miter"/>
<polygon points="156.9,127.06 153.6,120.46 160.2,120.46" fill="#f08c2c" stroke="#000" stroke-width="1.35" stroke-linejoin="miter"/>
<polygon points="166.64,128.41 163.34,121.81 169.94,121.81" fill="#f08c2c" stroke="#000" stroke-width="1.35" stroke-linejoin="miter"/>
<polygon points="176.38,130.91 173.08,124.31 179.68,124.31" fill="#f08c2c" stroke="#000" stroke-width="1.35" stroke-linejoin="miter"/>
<polygon points="186.12,134.55 182.82,127.95 189.42,127.95" fill="#f08c2c" stroke="#000" stroke-width="1.35" stroke-linejoin="miter"/>
<polygon points="195.86,131.84 192.56,125.24 199.16,125.24" fill="#f08c2c" stroke="#000" stroke-width="1.35" stroke-linejoin="miter"/>
<polygon points="205.6,134.55 202.3,127.95 208.9,127.95" fill="#f08c2c" stroke="#000" stroke-width="1.35" stroke-linejoin="miter"/>
<polygon points="215.34,136.32 212.04,129.72 218.64,129.72" fill="#f08c2c" stroke="#000" stroke-width="1.35" stroke-linejoin="miter"/>
<polygon points="225.08,136.42 221.78,129.82 228.38,129.82" fill="#f08c2c" stroke="#000" stroke-width="1.35" stroke-linejoin="miter"/>
<polyline points="108.2,139.57 117.94,135.41 127.68,136.03 137.42,138.01 147.16,126.98 156.9,126.98 166.64,133.02 176.38,138.53 186.12,139.05 195.86,133.85 205.6,138.01 215.34,139.05 225.08,134.47" fill="none" stroke="#000" stroke-width="2.7" stroke-linejoin="round" stroke-dasharray="3.7 1.8"/>
<polyline points="108.2,139.57 117.94,135.41 127.68,136.03 137.42,138.01 147.16,126.98 156.9,126.98 166.64,133.02 176.38,138.53 186.12,139.05 195.86,133.85 205.6,138.01 215.34,139.05 225.08,134.47" fill="none" stroke="#f03cf0" stroke-width="1.7" stroke-linejoin="round" stroke-dasharray="3.7 1.8"/>
<polygon points="108.2,142.87 104.9,136.27 111.5,136.27" fill="#f03cf0" stroke="#000" stroke-width="1.35" stroke-linejoin="miter"/>
<polygon points="117.94,138.71 114.64,132.11 121.24,132.11" fill="#f03cf0" stroke="#000" stroke-width="1.35" stroke-linejoin="miter"/>
<polygon points="127.68,139.33 124.38,132.73 130.98,132.73" fill="#f03cf0" stroke="#000" stroke-width="1.35" stroke-linejoin="miter"/>
<polygon points="137.42,141.31 134.12,134.71 140.72,134.71" fill="#f03cf0" stroke="#000" stroke-width="1.35" stroke-linejoin="miter"/>
<polygon points="147.16,130.28 143.86,123.68 150.46,123.68" fill="#f03cf0" stroke="#000" stroke-width="1.35" stroke-linejoin="miter"/>
<polygon points="156.9,130.28 153.6,123.68 160.2,123.68" fill="#f03cf0" stroke="#000" stroke-width="1.35" stroke-linejoin="miter"/>
<polygon points="166.64,136.32 163.34,129.72 169.94,129.72" fill="#f03cf0" stroke="#000" stroke-width="1.35" stroke-linejoin="miter"/>
<polygon points="176.38,141.83 173.08,135.23 179.68,135.23" fill="#f03cf0" stroke="#000" stroke-width="1.35" stroke-linejoin="miter"/>
<polygon points="186.12,142.35 182.82,135.75 189.42,135.75" fill="#f03cf0" stroke="#000" stroke-width="1.35" stroke-linejoin="miter"/>
<polygon points="195.86,137.15 192.56,130.55 199.16,130.55" fill="#f03cf0" stroke="#000" stroke-width="1.35" stroke-linejoin="miter"/>
<polygon points="205.6,141.31 202.3,134.71 208.9,134.71" fill="#f03cf0" stroke="#000" stroke-width="1.35" stroke-linejoin="miter"/>
<polygon points="215.34,142.35 212.04,135.75 218.64,135.75" fill="#f03cf0" stroke="#000" stroke-width="1.35" stroke-linejoin="miter"/>
<polygon points="225.08,137.77 221.78,131.17 228.38,131.17" fill="#f03cf0" stroke="#000" stroke-width="1.35" stroke-linejoin="miter"/>
<polyline points="376.62,107.43 386.36,112.63 396.1,114.09 405.84,120.64 415.58,122.41 425.32,125.11" fill="none" stroke="#000" stroke-width="2.9" stroke-linejoin="round"/>
<polyline points="376.62,107.43 386.36,112.63 396.1,114.09 405.84,120.64 415.58,122.41 425.32,125.11" fill="none" stroke="#f08c2c" stroke-width="1.7" stroke-linejoin="round"/>
<polygon points="376.62,110.73 373.32,104.13 379.92,104.13" fill="#f08c2c" stroke="#000" stroke-width="1.35" stroke-linejoin="miter"/>
<polygon points="386.36,115.93 383.06,109.33 389.66,109.33" fill="#f08c2c" stroke="#000" stroke-width="1.35" stroke-linejoin="miter"/>
<polygon points="396.1,117.39 392.8,110.79 399.4,110.79" fill="#f08c2c" stroke="#000" stroke-width="1.35" stroke-linejoin="miter"/>
<polygon points="405.84,123.94 402.54,117.34 409.14,117.34" fill="#f08c2c" stroke="#000" stroke-width="1.35" stroke-linejoin="miter"/>
<polygon points="415.58,125.71 412.28,119.11 418.88,119.11" fill="#f08c2c" stroke="#000" stroke-width="1.35" stroke-linejoin="miter"/>
<polygon points="425.32,128.41 422.02,121.81 428.62,121.81" fill="#f08c2c" stroke="#000" stroke-width="1.35" stroke-linejoin="miter"/>
<polyline points="376.62,108.37 386.36,113.88 396.1,116.17 405.84,123.45 415.58,123.45 425.32,126.15" fill="none" stroke="#000" stroke-width="2.7" stroke-linejoin="round" stroke-dasharray="3.7 1.8"/>
<polyline points="376.62,108.37 386.36,113.88 396.1,116.17 405.84,123.45 415.58,123.45 425.32,126.15" fill="none" stroke="#f03cf0" stroke-width="1.7" stroke-linejoin="round" stroke-dasharray="3.7 1.8"/>
<polygon points="376.62,111.67 373.32,105.07 379.92,105.07" fill="#f03cf0" stroke="#000" stroke-width="1.35" stroke-linejoin="miter"/>
<polygon points="386.36,117.18 383.06,110.58 389.66,110.58" fill="#f03cf0" stroke="#000" stroke-width="1.35" stroke-linejoin="miter"/>
<polygon points="396.1,119.47 392.8,112.87 399.4,112.87" fill="#f03cf0" stroke="#000" stroke-width="1.35" stroke-linejoin="miter"/>
<polygon points="405.84,126.75 402.54,120.15 409.14,120.15" fill="#f03cf0" stroke="#000" stroke-width="1.35" stroke-linejoin="miter"/>
<polygon points="415.58,126.75 412.28,120.15 418.88,120.15" fill="#f03cf0" stroke="#000" stroke-width="1.35" stroke-linejoin="miter"/>
<polygon points="425.32,129.45 422.02,122.85 428.62,122.85" fill="#f03cf0" stroke="#000" stroke-width="1.35" stroke-linejoin="miter"/>
<polyline points="557.48,97.76 567.22,89.75 576.96,112.84 586.7,115.75 596.44,113.67 606.18,120.74" fill="none" stroke="#000" stroke-width="2.9" stroke-linejoin="round"/>
<polyline points="557.48,97.76 567.22,89.75 576.96,112.84 586.7,115.75 596.44,113.67 606.18,120.74" fill="none" stroke="#f08c2c" stroke-width="1.7" stroke-linejoin="round"/>
<polygon points="557.48,101.06 554.18,94.46 560.78,94.46" fill="#f08c2c" stroke="#000" stroke-width="1.35" stroke-linejoin="miter"/>
<polygon points="567.22,93.05 563.92,86.45 570.52,86.45" fill="#f08c2c" stroke="#000" stroke-width="1.35" stroke-linejoin="miter"/>
<polygon points="576.96,116.14 573.66,109.54 580.26,109.54" fill="#f08c2c" stroke="#000" stroke-width="1.35" stroke-linejoin="miter"/>
<polygon points="586.7,119.05 583.4,112.45 590,112.45" fill="#f08c2c" stroke="#000" stroke-width="1.35" stroke-linejoin="miter"/>
<polygon points="596.44,116.97 593.14,110.37 599.74,110.37" fill="#f08c2c" stroke="#000" stroke-width="1.35" stroke-linejoin="miter"/>
<polygon points="606.18,124.04 602.88,117.44 609.48,117.44" fill="#f08c2c" stroke="#000" stroke-width="1.35" stroke-linejoin="miter"/>
<polyline points="557.48,98.7 567.22,90.69 576.96,113.98 586.7,116.69 596.44,114.92 606.18,122.93" fill="none" stroke="#000" stroke-width="2.7" stroke-linejoin="round" stroke-dasharray="3.7 1.8"/>
<polyline points="557.48,98.7 567.22,90.69 576.96,113.98 586.7,116.69 596.44,114.92 606.18,122.93" fill="none" stroke="#f03cf0" stroke-width="1.7" stroke-linejoin="round" stroke-dasharray="3.7 1.8"/>
<polygon points="557.48,102 554.18,95.4 560.78,95.4" fill="#f03cf0" stroke="#000" stroke-width="1.35" stroke-linejoin="miter"/>
<polygon points="567.22,93.99 563.92,87.39 570.52,87.39" fill="#f03cf0" stroke="#000" stroke-width="1.35" stroke-linejoin="miter"/>
<polygon points="576.96,117.28 573.66,110.68 580.26,110.68" fill="#f03cf0" stroke="#000" stroke-width="1.35" stroke-linejoin="miter"/>
<polygon points="586.7,119.99 583.4,113.39 590,113.39" fill="#f03cf0" stroke="#000" stroke-width="1.35" stroke-linejoin="miter"/>
<polygon points="596.44,118.22 593.14,111.62 599.74,111.62" fill="#f03cf0" stroke="#000" stroke-width="1.35" stroke-linejoin="miter"/>
<polygon points="606.18,126.23 602.88,119.63 609.48,119.63" fill="#f03cf0" stroke="#000" stroke-width="1.35" stroke-linejoin="miter"/>
<polyline points="127.68,301.64 137.42,273.98 147.16,263.78" fill="none" stroke="#000" stroke-width="3.3" stroke-linejoin="round"/>
<polyline points="127.68,301.64 137.42,273.98 147.16,263.78" fill="none" stroke="#4a6ee0" stroke-width="1.9" stroke-linejoin="round"/>
<polygon points="127.68,298.34 124.38,304.94 130.98,304.94" fill="#4a6ee0" stroke="#000" stroke-width="1.35" stroke-linejoin="miter"/>
<polygon points="137.42,270.68 134.12,277.28 140.72,277.28" fill="#4a6ee0" stroke="#000" stroke-width="1.35" stroke-linejoin="miter"/>
<polygon points="147.16,260.48 143.86,267.08 150.46,267.08" fill="#4a6ee0" stroke="#000" stroke-width="1.35" stroke-linejoin="miter"/>
<polyline points="166.64,287.18 176.38,305.28 186.12,298.52 195.86,309.75 205.6,314.95 215.34,318.28" fill="none" stroke="#000" stroke-width="3.3" stroke-linejoin="round"/>
<polyline points="166.64,287.18 176.38,305.28 186.12,298.52 195.86,309.75 205.6,314.95 215.34,318.28" fill="none" stroke="#4a6ee0" stroke-width="1.9" stroke-linejoin="round"/>
<polygon points="166.64,283.88 163.34,290.48 169.94,290.48" fill="#4a6ee0" stroke="#000" stroke-width="1.35" stroke-linejoin="miter"/>
<polygon points="176.38,301.98 173.08,308.58 179.68,308.58" fill="#4a6ee0" stroke="#000" stroke-width="1.35" stroke-linejoin="miter"/>
<polygon points="186.12,295.22 182.82,301.82 189.42,301.82" fill="#4a6ee0" stroke="#000" stroke-width="1.35" stroke-linejoin="miter"/>
<polygon points="195.86,306.45 192.56,313.05 199.16,313.05" fill="#4a6ee0" stroke="#000" stroke-width="1.35" stroke-linejoin="miter"/>
<polygon points="205.6,311.65 202.3,318.25 208.9,318.25" fill="#4a6ee0" stroke="#000" stroke-width="1.35" stroke-linejoin="miter"/>
<polygon points="215.34,314.98 212.04,321.58 218.64,321.58" fill="#4a6ee0" stroke="#000" stroke-width="1.35" stroke-linejoin="miter"/>
<polyline points="117.94,301.12 127.68,301.64 137.42,299.04 147.16,290.72" fill="none" stroke="#000" stroke-width="2.9" stroke-linejoin="round"/>
<polyline points="117.94,301.12 127.68,301.64 137.42,299.04 147.16,290.72" fill="none" stroke="#f08c2c" stroke-width="1.7" stroke-linejoin="round"/>
<polygon points="117.94,304.42 114.64,297.82 121.24,297.82" fill="#f08c2c" stroke="#000" stroke-width="1.35" stroke-linejoin="miter"/>
<polygon points="127.68,304.94 124.38,298.34 130.98,298.34" fill="#f08c2c" stroke="#000" stroke-width="1.35" stroke-linejoin="miter"/>
<polygon points="137.42,302.34 134.12,295.74 140.72,295.74" fill="#f08c2c" stroke="#000" stroke-width="1.35" stroke-linejoin="miter"/>
<polygon points="147.16,294.02 143.86,287.42 150.46,287.42" fill="#f08c2c" stroke="#000" stroke-width="1.35" stroke-linejoin="miter"/>
<polyline points="166.64,292.28 176.38,300.39 186.12,304.76 195.86,306.32 205.6,304.76 215.34,305.28" fill="none" stroke="#000" stroke-width="2.9" stroke-linejoin="round"/>
<polyline points="166.64,292.28 176.38,300.39 186.12,304.76 195.86,306.32 205.6,304.76 215.34,305.28" fill="none" stroke="#f08c2c" stroke-width="1.7" stroke-linejoin="round"/>
<polygon points="166.64,295.58 163.34,288.98 169.94,288.98" fill="#f08c2c" stroke="#000" stroke-width="1.35" stroke-linejoin="miter"/>
<polygon points="176.38,303.69 173.08,297.09 179.68,297.09" fill="#f08c2c" stroke="#000" stroke-width="1.35" stroke-linejoin="miter"/>
<polygon points="186.12,308.06 182.82,301.46 189.42,301.46" fill="#f08c2c" stroke="#000" stroke-width="1.35" stroke-linejoin="miter"/>
<polygon points="195.86,309.62 192.56,303.02 199.16,303.02" fill="#f08c2c" stroke="#000" stroke-width="1.35" stroke-linejoin="miter"/>
<polygon points="205.6,308.06 202.3,301.46 208.9,301.46" fill="#f08c2c" stroke="#000" stroke-width="1.35" stroke-linejoin="miter"/>
<polygon points="215.34,308.58 212.04,301.98 218.64,301.98" fill="#f08c2c" stroke="#000" stroke-width="1.35" stroke-linejoin="miter"/>
<polyline points="117.94,302.16 127.68,306.32 137.42,306.32 147.16,291.66" fill="none" stroke="#000" stroke-width="2.7" stroke-linejoin="round" stroke-dasharray="3.7 1.8"/>
<polyline points="117.94,302.16 127.68,306.32 137.42,306.32 147.16,291.66" fill="none" stroke="#f03cf0" stroke-width="1.7" stroke-linejoin="round" stroke-dasharray="3.7 1.8"/>
<polygon points="117.94,305.46 114.64,298.86 121.24,298.86" fill="#f03cf0" stroke="#000" stroke-width="1.35" stroke-linejoin="miter"/>
<polygon points="127.68,309.62 124.38,303.02 130.98,303.02" fill="#f03cf0" stroke="#000" stroke-width="1.35" stroke-linejoin="miter"/>
<polygon points="137.42,309.62 134.12,303.02 140.72,303.02" fill="#f03cf0" stroke="#000" stroke-width="1.35" stroke-linejoin="miter"/>
<polygon points="147.16,294.96 143.86,288.36 150.46,288.36" fill="#f03cf0" stroke="#000" stroke-width="1.35" stroke-linejoin="miter"/>
<polyline points="166.64,300.39 176.38,311.42 186.12,314.12 195.86,311.62 205.6,313.08 215.34,314.54" fill="none" stroke="#000" stroke-width="2.7" stroke-linejoin="round" stroke-dasharray="3.7 1.8"/>
<polyline points="166.64,300.39 176.38,311.42 186.12,314.12 195.86,311.62 205.6,313.08 215.34,314.54" fill="none" stroke="#f03cf0" stroke-width="1.7" stroke-linejoin="round" stroke-dasharray="3.7 1.8"/>
<polygon points="166.64,303.69 163.34,297.09 169.94,297.09" fill="#f03cf0" stroke="#000" stroke-width="1.35" stroke-linejoin="miter"/>
<polygon points="176.38,314.72 173.08,308.12 179.68,308.12" fill="#f03cf0" stroke="#000" stroke-width="1.35" stroke-linejoin="miter"/>
<polygon points="186.12,317.42 182.82,310.82 189.42,310.82" fill="#f03cf0" stroke="#000" stroke-width="1.35" stroke-linejoin="miter"/>
<polygon points="195.86,314.92 192.56,308.32 199.16,308.32" fill="#f03cf0" stroke="#000" stroke-width="1.35" stroke-linejoin="miter"/>
<polygon points="205.6,316.38 202.3,309.78 208.9,309.78" fill="#f03cf0" stroke="#000" stroke-width="1.35" stroke-linejoin="miter"/>
<polygon points="215.34,317.84 212.04,311.24 218.64,311.24" fill="#f03cf0" stroke="#000" stroke-width="1.35" stroke-linejoin="miter"/>
<polyline points="376.62,266.18 386.36,278.97" fill="none" stroke="#000" stroke-width="3.3" stroke-linejoin="round"/>
<polyline points="376.62,266.18 386.36,278.97" fill="none" stroke="#4a6ee0" stroke-width="1.9" stroke-linejoin="round"/>
<polygon points="376.62,262.88 373.32,269.48 379.92,269.48" fill="#4a6ee0" stroke="#000" stroke-width="1.35" stroke-linejoin="miter"/>
<polygon points="386.36,275.67 383.06,282.27 389.66,282.27" fill="#4a6ee0" stroke="#000" stroke-width="1.35" stroke-linejoin="miter"/>
<polygon points="425.32,293.76 422.02,300.36 428.62,300.36" fill="#4a6ee0" stroke="#000" stroke-width="1.35" stroke-linejoin="miter"/>
<polyline points="376.62,273.77 386.36,280.84" fill="none" stroke="#000" stroke-width="2.9" stroke-linejoin="round"/>
<polyline points="376.62,273.77 386.36,280.84" fill="none" stroke="#f08c2c" stroke-width="1.7" stroke-linejoin="round"/>
<polygon points="376.62,277.07 373.32,270.47 379.92,270.47" fill="#f08c2c" stroke="#000" stroke-width="1.35" stroke-linejoin="miter"/>
<polygon points="386.36,284.14 383.06,277.54 389.66,277.54" fill="#f08c2c" stroke="#000" stroke-width="1.35" stroke-linejoin="miter"/>
<polygon points="425.32,298.28 422.02,291.68 428.62,291.68" fill="#f08c2c" stroke="#000" stroke-width="1.35" stroke-linejoin="miter"/>
<polyline points="376.62,275.95 386.36,282.61" fill="none" stroke="#000" stroke-width="2.7" stroke-linejoin="round" stroke-dasharray="3.7 1.8"/>
<polyline points="376.62,275.95 386.36,282.61" fill="none" stroke="#f03cf0" stroke-width="1.7" stroke-linejoin="round" stroke-dasharray="3.7 1.8"/>
<polygon points="376.62,279.25 373.32,272.65 379.92,272.65" fill="#f03cf0" stroke="#000" stroke-width="1.35" stroke-linejoin="miter"/>
<polygon points="386.36,285.91 383.06,279.31 389.66,279.31" fill="#f03cf0" stroke="#000" stroke-width="1.35" stroke-linejoin="miter"/>
<polygon points="425.32,298.91 422.02,292.31 428.62,292.31" fill="#f03cf0" stroke="#000" stroke-width="1.35" stroke-linejoin="miter"/>
<polyline points="567.22,273.98 576.96,275.54 586.7,287.5" fill="none" stroke="#000" stroke-width="3.3" stroke-linejoin="round"/>
<polyline points="567.22,273.98 576.96,275.54 586.7,287.5" fill="none" stroke="#4a6ee0" stroke-width="1.9" stroke-linejoin="round"/>
<polygon points="567.22,270.68 563.92,277.28 570.52,277.28" fill="#4a6ee0" stroke="#000" stroke-width="1.35" stroke-linejoin="miter"/>
<polygon points="576.96,272.24 573.66,278.84 580.26,278.84" fill="#4a6ee0" stroke="#000" stroke-width="1.35" stroke-linejoin="miter"/>
<polygon points="586.7,284.2 583.4,290.8 590,290.8" fill="#4a6ee0" stroke="#000" stroke-width="1.35" stroke-linejoin="miter"/>
<polyline points="567.22,260.56 576.96,280.32 586.7,283.96" fill="none" stroke="#000" stroke-width="2.9" stroke-linejoin="round"/>
<polyline points="567.22,260.56 576.96,280.32 586.7,283.96" fill="none" stroke="#f08c2c" stroke-width="1.7" stroke-linejoin="round"/>
<polygon points="567.22,263.86 563.92,257.26 570.52,257.26" fill="#f08c2c" stroke="#000" stroke-width="1.35" stroke-linejoin="miter"/>
<polygon points="576.96,283.62 573.66,277.02 580.26,277.02" fill="#f08c2c" stroke="#000" stroke-width="1.35" stroke-linejoin="miter"/>
<polygon points="586.7,287.26 583.4,280.66 590,280.66" fill="#f08c2c" stroke="#000" stroke-width="1.35" stroke-linejoin="miter"/>
<polyline points="567.22,261.29 576.96,281.05 586.7,284.69" fill="none" stroke="#000" stroke-width="2.7" stroke-linejoin="round" stroke-dasharray="3.7 1.8"/>
<polyline points="567.22,261.29 576.96,281.05 586.7,284.69" fill="none" stroke="#f03cf0" stroke-width="1.7" stroke-linejoin="round" stroke-dasharray="3.7 1.8"/>
<polygon points="567.22,264.59 563.92,257.99 570.52,257.99" fill="#f03cf0" stroke="#000" stroke-width="1.35" stroke-linejoin="miter"/>
<polygon points="576.96,284.35 573.66,277.75 580.26,277.75" fill="#f03cf0" stroke="#000" stroke-width="1.35" stroke-linejoin="miter"/>
<polygon points="586.7,287.99 583.4,281.39 590,281.39" fill="#f03cf0" stroke="#000" stroke-width="1.35" stroke-linejoin="miter"/>
<text x="64.7" y="28.8" font-size="11" font-weight="bold" fill="#000">a)</text>
<text x="256.1" y="28.8" font-size="11" font-weight="bold" fill="#000">b)</text>
<text x="448" y="28.8" font-size="11" font-weight="bold" fill="#000">c)</text>
<text x="64.7" y="197.5" font-size="11" font-weight="bold" fill="#000">d)</text>
<text x="256.3" y="241.1" font-size="11" font-weight="bold" fill="#000">e)</text>
<text x="449" y="197.5" font-size="11" font-weight="bold" fill="#000">f)</text>
<text x="143.5" y="10.3" font-size="13.2" font-weight="bold" fill="#000" text-anchor="middle">West</text>
<text x="333.5" y="10.3" font-size="13.2" font-weight="bold" fill="#000" text-anchor="middle">Central</text>
<text x="523.5" y="10.3" font-size="13.2" font-weight="bold" fill="#000" text-anchor="middle">East</text>
<text x="351.6" y="371.3" font-size="12.3" font-weight="bold" fill="#000" text-anchor="middle" textLength="95" lengthAdjust="spacingAndGlyphs">September 2020</text>
<rect x="254.4" y="188.4" width="101.9" height="39.8" rx="2" fill="#fff" fill-opacity="0.85" stroke="#d0d0d0" stroke-width="0.9"/>
<line x1="256.1" y1="195.3" x2="275.9" y2="195.3" stroke="#000" stroke-width="2.9"/>
<line x1="256.7" y1="195.3" x2="275.3" y2="195.3" stroke="#4a6ee0" stroke-width="1.7"/>
<polygon points="266,192 262.7,198.6 269.3,198.6" fill="#4a6ee0" stroke="#000" stroke-width="1.35" stroke-linejoin="miter"/>
<text x="281" y="198.5" font-size="9" fill="#222" textLength="37.2" lengthAdjust="spacingAndGlyphs">TROPOMI</text>
<line x1="256.1" y1="207.5" x2="275.9" y2="207.5" stroke="#000" stroke-width="2.9"/>
<line x1="256.7" y1="207.5" x2="275.3" y2="207.5" stroke="#f08c2c" stroke-width="1.7"/>
<polygon points="266,210.8 262.7,204.2 269.3,204.2" fill="#f08c2c" stroke="#000" stroke-width="1.35" stroke-linejoin="miter"/>
<text x="281" y="210.4" font-size="9" fill="#222" textLength="41.8" lengthAdjust="spacingAndGlyphs">RAP-Chem</text>
<line x1="257.2" y1="220.5" x2="273.6" y2="220.5" stroke="#000" stroke-width="2.9"/>
<line x1="257.8" y1="220.5" x2="273" y2="220.5" stroke="#f03cf0" stroke-width="1.7"/>
<polygon points="266,223.8 262.7,217.2 269.3,217.2" fill="#f03cf0" stroke="#000" stroke-width="1.35" stroke-linejoin="miter"/>
<text x="281" y="223.2" font-size="9" fill="#222" textLength="71.3" lengthAdjust="spacingAndGlyphs">RAP-Chem scaled</text>
<defs><linearGradient id="cbg" x1="0" y1="0" x2="0" y2="1"><stop offset="0" stop-color="#800000"/><stop offset="0.02" stop-color="#900303"/><stop offset="0.03" stop-color="#9f0505"/><stop offset="0.05" stop-color="#af0808"/><stop offset="0.07" stop-color="#cc120d"/><stop offset="0.08" stop-color="#e61c12"/><stop offset="0.1" stop-color="#ec2012"/><stop offset="0.12" stop-color="#f12512"/><stop offset="0.13" stop-color="#f52a12"/><stop offset="0.15" stop-color="#f43114"/><stop offset="0.17" stop-color="#f43915"/><stop offset="0.18" stop-color="#f34117"/><stop offset="0.2" stop-color="#f24818"/><stop offset="0.22" stop-color="#f2541c"/><stop offset="0.23" stop-color="#f16321"/><stop offset="0.25" stop-color="#f07226"/><stop offset="0.27" stop-color="#f0842b"/><stop offset="0.28" stop-color="#f09830"/><stop offset="0.3" stop-color="#efac32"/><stop offset="0.32" stop-color="#ecbf32"/><stop offset="0.33" stop-color="#ead632"/><stop offset="0.35" stop-color="#e8ee32"/><stop offset="0.37" stop-color="#dff035"/><stop offset="0.38" stop-color="#d6f337"/><stop offset="0.4" stop-color="#cdf53a"/><stop offset="0.42" stop-color="#c3f547"/><stop offset="0.43" stop-color="#b9f554"/><stop offset="0.45" stop-color="#aff561"/><stop offset="0.47" stop-color="#a5f56e"/><stop offset="0.48" stop-color="#9bf57b"/><stop offset="0.5" stop-color="#93f589"/><stop offset="0.52" stop-color="#8df498"/><stop offset="0.53" stop-color="#86f3a7"/><stop offset="0.55" stop-color="#80f3b6"/><stop offset="0.57" stop-color="#79f2c5"/><stop offset="0.58" stop-color="#76f1d2"/><stop offset="0.6" stop-color="#74efdf"/><stop offset="0.62" stop-color="#72edec"/><stop offset="0.63" stop-color="#6fecf8"/><stop offset="0.65" stop-color="#6be4ff"/><stop offset="0.67" stop-color="#64d5ff"/><stop offset="0.68" stop-color="#5dc6ff"/><stop offset="0.7" stop-color="#57b6ff"/><stop offset="0.72" stop-color="#51a6ff"/><stop offset="0.73" stop-color="#4a96ff"/><stop offset="0.75" stop-color="#4483ff"/><stop offset="0.77" stop-color="#3d6cff"/><stop offset="0.78" stop-color="#3654ff"/><stop offset="0.8" stop-color="#2f3eff"/><stop offset="0.82" stop-color="#292aff"/><stop offset="0.83" stop-color="#2216ff"/><stop offset="0.85" stop-color="#1e09fe"/><stop offset="0.87" stop-color="#1f06fb"/><stop offset="0.88" stop-color="#1f03f8"/><stop offset="0.9" stop-color="#2000f5"/><stop offset="0.92" stop-color="#1f00e6"/><stop offset="0.93" stop-color="#1f00d7"/><stop offset="0.95" stop-color="#1e00c8"/><stop offset="0.97" stop-color="#1c00b7"/><stop offset="0.98" stop-color="#1b00a7"/><stop offset="1" stop-color="#190096"/></linearGradient></defs>
<rect x="636" y="28.5" width="15.5" height="298.8" fill="url(#cbg)"/>
<rect x="636" y="28.5" width="15.5" height="298.8" fill="none" stroke="#6e6e6e" stroke-width="0.8"/>
<line x1="651.5" y1="311.58" x2="653.3" y2="311.58" stroke="#6e6e6e" stroke-width="0.7"/>
<line x1="651.5" y1="298.29" x2="653.3" y2="298.29" stroke="#6e6e6e" stroke-width="0.7"/>
<line x1="651.5" y1="286.78" x2="653.3" y2="286.78" stroke="#6e6e6e" stroke-width="0.7"/>
<line x1="651.5" y1="276.62" x2="653.3" y2="276.62" stroke="#6e6e6e" stroke-width="0.7"/>
<line x1="651.5" y1="207.78" x2="653.3" y2="207.78" stroke="#6e6e6e" stroke-width="0.7"/>
<line x1="651.5" y1="172.82" x2="653.3" y2="172.82" stroke="#6e6e6e" stroke-width="0.7"/>
<line x1="651.5" y1="148.02" x2="653.3" y2="148.02" stroke="#6e6e6e" stroke-width="0.7"/>
<line x1="651.5" y1="113.06" x2="653.3" y2="113.06" stroke="#6e6e6e" stroke-width="0.7"/>
<line x1="651.5" y1="99.77" x2="653.3" y2="99.77" stroke="#6e6e6e" stroke-width="0.7"/>
<line x1="651.5" y1="88.26" x2="653.3" y2="88.26" stroke="#6e6e6e" stroke-width="0.7"/>
<line x1="651.5" y1="78.11" x2="653.3" y2="78.11" stroke="#6e6e6e" stroke-width="0.7"/>
<line x1="651.5" y1="28.5" x2="654.3" y2="28.5" stroke="#6e6e6e" stroke-width="0.9"/>
<text x="655.1" y="32" font-size="9.8" fill="#222">1.6</text>
<line x1="651.5" y1="69.02" x2="654.3" y2="69.02" stroke="#6e6e6e" stroke-width="0.9"/>
<text x="655.1" y="72.52" font-size="9.8" fill="#222">1</text>
<line x1="651.5" y1="128.78" x2="654.3" y2="128.78" stroke="#6e6e6e" stroke-width="0.9"/>
<text x="655.1" y="132.28" font-size="9.8" fill="#222">0.5</text>
<line x1="651.5" y1="267.54" x2="654.3" y2="267.54" stroke="#6e6e6e" stroke-width="0.9"/>
<text x="655.1" y="271.74" font-size="9.8" fill="#222">0.1</text>
<line x1="651.5" y1="327.3" x2="654.3" y2="327.3" stroke="#6e6e6e" stroke-width="0.9"/>
<text x="655.1" y="330.8" font-size="9.8" fill="#222">0.05</text>
<text transform="translate(675.3,168) rotate(90)" font-size="12.6" font-weight="bold" fill="#000" text-anchor="middle" textLength="154.7" lengthAdjust="spacingAndGlyphs">CO Concentration (ppm)</text>
<text transform="translate(42.3,166.3) rotate(-90)" font-size="13.4" font-weight="bold" fill="#000" text-anchor="middle" textLength="77.8" lengthAdjust="spacingAndGlyphs">Altitude (km)</text>
<text transform="translate(12.8,94) rotate(-90)" font-size="13.9" font-weight="bold" text-anchor="middle" textLength="144.7" lengthAdjust="spacingAndGlyphs"><tspan fill="#e2722c">RAP-Chem</tspan><tspan fill="#000">, masked by</tspan></text>
<text transform="translate(28.6,94.2) rotate(-90)" font-size="13.9" font-weight="bold" fill="#000" text-anchor="middle" textLength="39.2" lengthAdjust="spacingAndGlyphs">smoke</text>
<text transform="translate(9.8,264.7) rotate(-90)" font-size="13.9" font-weight="bold" text-anchor="middle" textLength="144.7" lengthAdjust="spacingAndGlyphs"><tspan fill="#e2722c">RAP-Chem</tspan><tspan fill="#000">, masked by</tspan></text>
<text transform="translate(25.6,264.75) rotate(-90)" font-size="13.9" font-weight="bold" text-anchor="middle" textLength="134.5" lengthAdjust="spacingAndGlyphs"><tspan fill="#000">smoke and </tspan><tspan fill="#4a7fe6">TROPOMI</tspan></text>
<text transform="translate(40.8,265) rotate(-90)" font-size="13.9" font-weight="bold" fill="#4a7fe6" text-anchor="middle" textLength="36" lengthAdjust="spacingAndGlyphs">AOCH</text>
</svg></body></html>
